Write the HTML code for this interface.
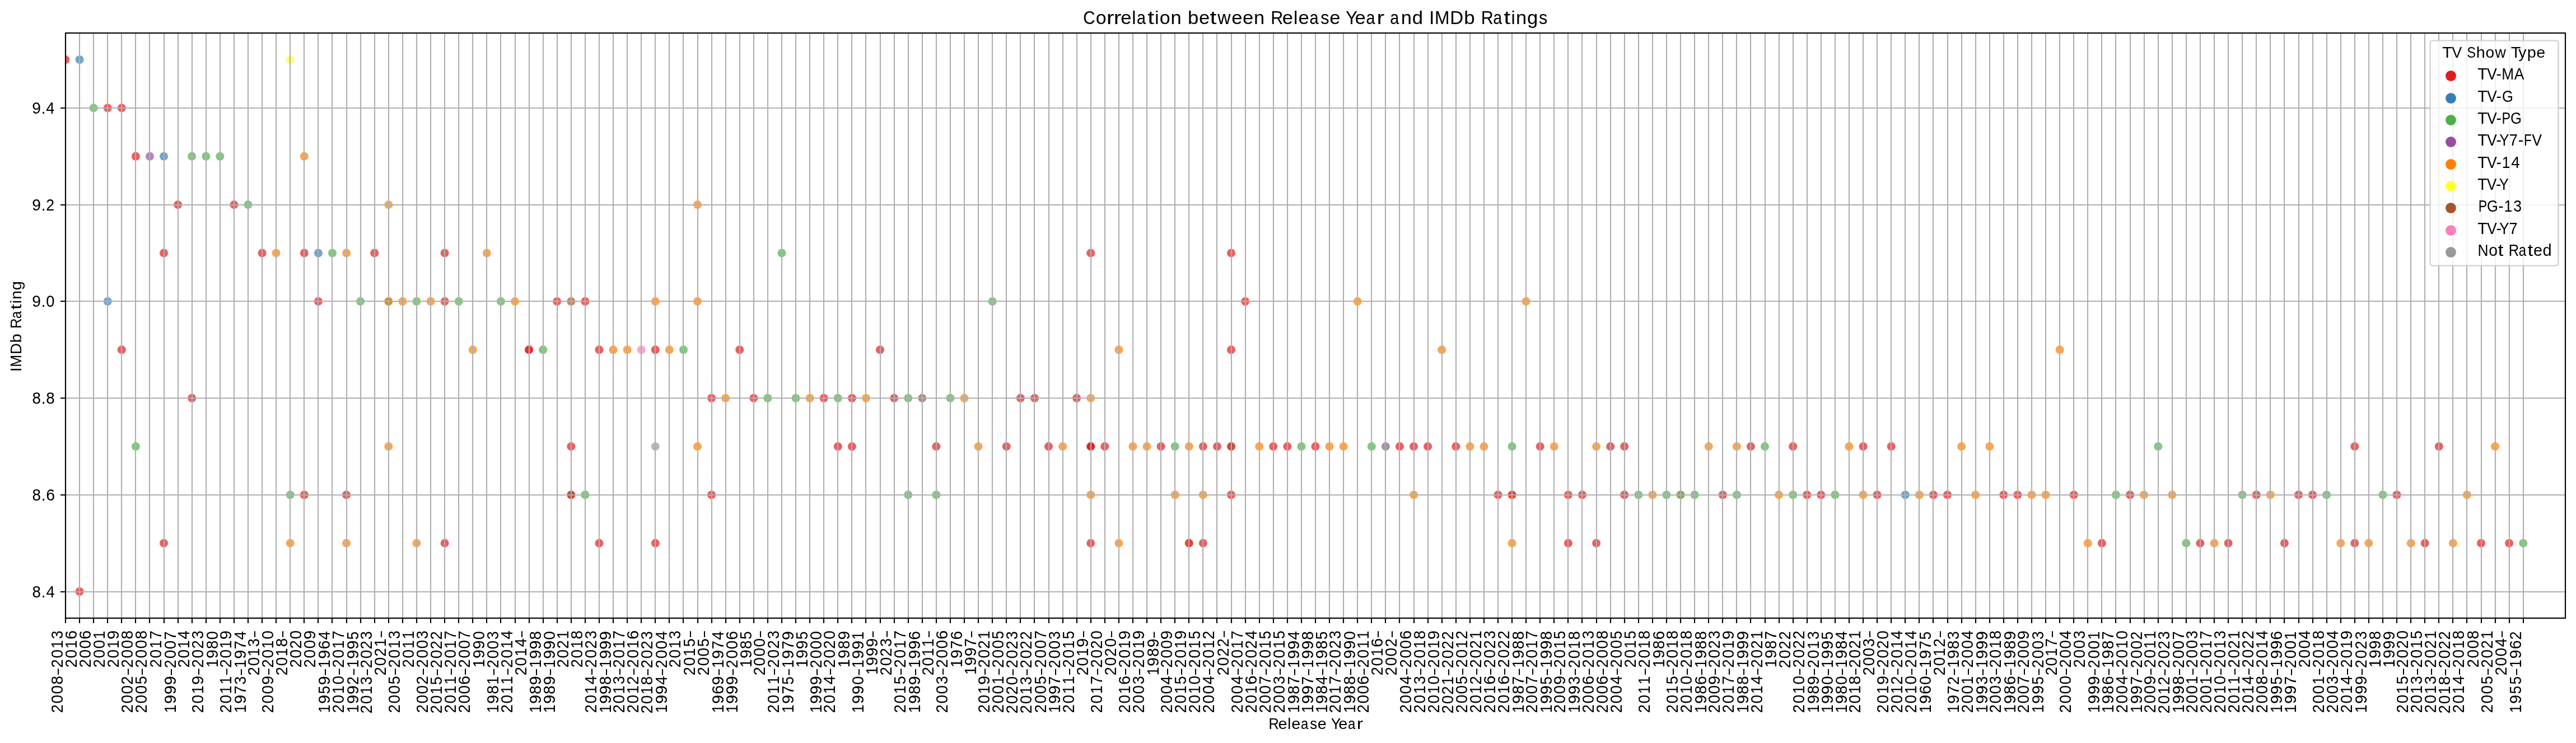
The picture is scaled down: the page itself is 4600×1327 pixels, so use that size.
<!DOCTYPE html>
<html><head><meta charset="utf-8"><title>Correlation between Release Year and IMDb Ratings</title>
<style>html,body{margin:0;padding:0;background:#fff;}body{width:4600px;height:1327px;overflow:hidden;}svg{display:block;will-change:transform;}text{font-family:"Liberation Sans", sans-serif;white-space:pre;font-kerning:none;}tspan{}</style>
</head><body>
<svg width="4600" height="1327" viewBox="0 0 4600 1327"><rect x="0" y="0" width="4600" height="1327" fill="#fff"/>
<defs><clipPath id="ac"><rect x="117" y="59" width="4464" height="1045"/></clipPath></defs>
<g clip-path="url(#ac)" fill-opacity="0.7" stroke="#fff" stroke-opacity="0.7" stroke-width="1.28"><circle cx="117" cy="106.5" r="8" fill="#e41a1c"/><circle cx="142.079" cy="106.5" r="8" fill="#377eb8"/><circle cx="518.258" cy="106.5" r="8" fill="#ffff33"/><circle cx="167.157" cy="192.864" r="8" fill="#4daf4a"/><circle cx="192.236" cy="192.864" r="8" fill="#e41a1c"/><circle cx="217.315" cy="192.864" r="8" fill="#e41a1c"/><circle cx="242.393" cy="279.227" r="8" fill="#e41a1c"/><circle cx="267.472" cy="279.227" r="8" fill="#984ea3"/><circle cx="292.551" cy="279.227" r="8" fill="#377eb8"/><circle cx="342.708" cy="279.227" r="8" fill="#4daf4a"/><circle cx="367.787" cy="279.227" r="8" fill="#4daf4a"/><circle cx="392.865" cy="279.227" r="8" fill="#4daf4a"/><circle cx="543.337" cy="279.227" r="8" fill="#ff7f00"/><circle cx="317.629" cy="365.591" r="8" fill="#e41a1c"/><circle cx="417.944" cy="365.591" r="8" fill="#e41a1c"/><circle cx="443.022" cy="365.591" r="8" fill="#4daf4a"/><circle cx="693.809" cy="365.591" r="8" fill="#ff7f00"/><circle cx="1245.539" cy="365.591" r="8" fill="#ff7f00"/><circle cx="292.551" cy="451.955" r="8" fill="#e41a1c"/><circle cx="468.101" cy="451.955" r="8" fill="#e41a1c"/><circle cx="493.18" cy="451.955" r="8" fill="#ff7f00"/><circle cx="543.337" cy="451.955" r="8" fill="#e41a1c"/><circle cx="568.416" cy="451.955" r="8" fill="#377eb8"/><circle cx="593.494" cy="451.955" r="8" fill="#4daf4a"/><circle cx="618.573" cy="451.955" r="8" fill="#ff7f00"/><circle cx="668.73" cy="451.955" r="8" fill="#e41a1c"/><circle cx="794.124" cy="451.955" r="8" fill="#e41a1c"/><circle cx="869.36" cy="451.955" r="8" fill="#ff7f00"/><circle cx="1396.011" cy="451.955" r="8" fill="#4daf4a"/><circle cx="1947.742" cy="451.955" r="8" fill="#e41a1c"/><circle cx="2198.528" cy="451.955" r="8" fill="#e41a1c"/><circle cx="192.236" cy="538.318" r="8" fill="#377eb8"/><circle cx="568.416" cy="538.318" r="8" fill="#e41a1c"/><circle cx="643.652" cy="538.318" r="8" fill="#4daf4a"/><circle cx="693.809" cy="538.318" r="8" fill="#ff7f00"/><circle cx="693.809" cy="538.318" r="8" fill="#4daf4a"/><circle cx="693.809" cy="538.318" r="8" fill="#ff7f00"/><circle cx="718.888" cy="538.318" r="8" fill="#ff7f00"/><circle cx="743.966" cy="538.318" r="8" fill="#4daf4a"/><circle cx="769.045" cy="538.318" r="8" fill="#ff7f00"/><circle cx="794.124" cy="538.318" r="8" fill="#e41a1c"/><circle cx="819.202" cy="538.318" r="8" fill="#4daf4a"/><circle cx="894.438" cy="538.318" r="8" fill="#4daf4a"/><circle cx="919.517" cy="538.318" r="8" fill="#ff7f00"/><circle cx="994.753" cy="538.318" r="8" fill="#e41a1c"/><circle cx="1019.831" cy="538.318" r="8" fill="#a65628"/><circle cx="1044.91" cy="538.318" r="8" fill="#e41a1c"/><circle cx="1170.303" cy="538.318" r="8" fill="#ff7f00"/><circle cx="1245.539" cy="538.318" r="8" fill="#ff7f00"/><circle cx="1772.191" cy="538.318" r="8" fill="#4daf4a"/><circle cx="2223.607" cy="538.318" r="8" fill="#e41a1c"/><circle cx="2424.236" cy="538.318" r="8" fill="#ff7f00"/><circle cx="2725.18" cy="538.318" r="8" fill="#ff7f00"/><circle cx="217.315" cy="624.682" r="8" fill="#e41a1c"/><circle cx="844.281" cy="624.682" r="8" fill="#ff7f00"/><circle cx="944.596" cy="624.682" r="8" fill="#e41a1c"/><circle cx="944.596" cy="624.682" r="8" fill="#e41a1c"/><circle cx="969.674" cy="624.682" r="8" fill="#4daf4a"/><circle cx="1069.989" cy="624.682" r="8" fill="#e41a1c"/><circle cx="1095.067" cy="624.682" r="8" fill="#ff7f00"/><circle cx="1120.146" cy="624.682" r="8" fill="#ff7f00"/><circle cx="1145.225" cy="624.682" r="8" fill="#f781bf"/><circle cx="1170.303" cy="624.682" r="8" fill="#e41a1c"/><circle cx="1195.382" cy="624.682" r="8" fill="#ff7f00"/><circle cx="1220.461" cy="624.682" r="8" fill="#4daf4a"/><circle cx="1320.775" cy="624.682" r="8" fill="#e41a1c"/><circle cx="1571.562" cy="624.682" r="8" fill="#e41a1c"/><circle cx="1997.899" cy="624.682" r="8" fill="#ff7f00"/><circle cx="2198.528" cy="624.682" r="8" fill="#e41a1c"/><circle cx="2574.708" cy="624.682" r="8" fill="#ff7f00"/><circle cx="3678.169" cy="624.682" r="8" fill="#ff7f00"/><circle cx="342.708" cy="711.045" r="8" fill="#e41a1c"/><circle cx="1270.618" cy="711.045" r="8" fill="#e41a1c"/><circle cx="1295.697" cy="711.045" r="8" fill="#ff7f00"/><circle cx="1345.854" cy="711.045" r="8" fill="#e41a1c"/><circle cx="1370.933" cy="711.045" r="8" fill="#4daf4a"/><circle cx="1421.09" cy="711.045" r="8" fill="#4daf4a"/><circle cx="1446.169" cy="711.045" r="8" fill="#ff7f00"/><circle cx="1471.247" cy="711.045" r="8" fill="#e41a1c"/><circle cx="1496.326" cy="711.045" r="8" fill="#4daf4a"/><circle cx="1521.404" cy="711.045" r="8" fill="#e41a1c"/><circle cx="1546.483" cy="711.045" r="8" fill="#ff7f00"/><circle cx="1596.64" cy="711.045" r="8" fill="#e41a1c"/><circle cx="1621.719" cy="711.045" r="8" fill="#4daf4a"/><circle cx="1646.798" cy="711.045" r="8" fill="#e41a1c"/><circle cx="1646.798" cy="711.045" r="8" fill="#999999"/><circle cx="1696.955" cy="711.045" r="8" fill="#4daf4a"/><circle cx="1722.034" cy="711.045" r="8" fill="#ff7f00"/><circle cx="1822.348" cy="711.045" r="8" fill="#e41a1c"/><circle cx="1847.427" cy="711.045" r="8" fill="#e41a1c"/><circle cx="1922.663" cy="711.045" r="8" fill="#e41a1c"/><circle cx="1947.742" cy="711.045" r="8" fill="#ff7f00"/><circle cx="242.393" cy="797.409" r="8" fill="#4daf4a"/><circle cx="693.809" cy="797.409" r="8" fill="#ff7f00"/><circle cx="1019.831" cy="797.409" r="8" fill="#e41a1c"/><circle cx="1170.303" cy="797.409" r="8" fill="#999999"/><circle cx="1245.539" cy="797.409" r="8" fill="#ff7f00"/><circle cx="1496.326" cy="797.409" r="8" fill="#e41a1c"/><circle cx="1521.404" cy="797.409" r="8" fill="#e41a1c"/><circle cx="1671.876" cy="797.409" r="8" fill="#e41a1c"/><circle cx="1747.112" cy="797.409" r="8" fill="#ff7f00"/><circle cx="1797.27" cy="797.409" r="8" fill="#e41a1c"/><circle cx="1872.506" cy="797.409" r="8" fill="#e41a1c"/><circle cx="1897.584" cy="797.409" r="8" fill="#ff7f00"/><circle cx="1947.742" cy="797.409" r="8" fill="#e41a1c"/><circle cx="1947.742" cy="797.409" r="8" fill="#e41a1c"/><circle cx="1947.742" cy="797.409" r="8" fill="#e41a1c"/><circle cx="1972.82" cy="797.409" r="8" fill="#e41a1c"/><circle cx="2022.978" cy="797.409" r="8" fill="#ff7f00"/><circle cx="2048.056" cy="797.409" r="8" fill="#ff7f00"/><circle cx="2073.135" cy="797.409" r="8" fill="#e41a1c"/><circle cx="2098.213" cy="797.409" r="8" fill="#4daf4a"/><circle cx="2123.292" cy="797.409" r="8" fill="#ff7f00"/><circle cx="2148.371" cy="797.409" r="8" fill="#e41a1c"/><circle cx="2173.449" cy="797.409" r="8" fill="#e41a1c"/><circle cx="2198.528" cy="797.409" r="8" fill="#4daf4a"/><circle cx="2198.528" cy="797.409" r="8" fill="#e41a1c"/><circle cx="2248.685" cy="797.409" r="8" fill="#ff7f00"/><circle cx="2273.764" cy="797.409" r="8" fill="#e41a1c"/><circle cx="2298.843" cy="797.409" r="8" fill="#e41a1c"/><circle cx="2323.921" cy="797.409" r="8" fill="#4daf4a"/><circle cx="2349" cy="797.409" r="8" fill="#e41a1c"/><circle cx="2374.079" cy="797.409" r="8" fill="#ff7f00"/><circle cx="2399.157" cy="797.409" r="8" fill="#ff7f00"/><circle cx="2449.315" cy="797.409" r="8" fill="#4daf4a"/><circle cx="2474.393" cy="797.409" r="8" fill="#984ea3"/><circle cx="2474.393" cy="797.409" r="8" fill="#999999"/><circle cx="2499.472" cy="797.409" r="8" fill="#e41a1c"/><circle cx="2524.551" cy="797.409" r="8" fill="#e41a1c"/><circle cx="2549.629" cy="797.409" r="8" fill="#e41a1c"/><circle cx="2599.787" cy="797.409" r="8" fill="#e41a1c"/><circle cx="2624.865" cy="797.409" r="8" fill="#ff7f00"/><circle cx="2649.944" cy="797.409" r="8" fill="#ff7f00"/><circle cx="2700.101" cy="797.409" r="8" fill="#4daf4a"/><circle cx="2750.258" cy="797.409" r="8" fill="#e41a1c"/><circle cx="2775.337" cy="797.409" r="8" fill="#ff7f00"/><circle cx="2850.573" cy="797.409" r="8" fill="#ff7f00"/><circle cx="2875.652" cy="797.409" r="8" fill="#e41a1c"/><circle cx="2900.73" cy="797.409" r="8" fill="#e41a1c"/><circle cx="3051.202" cy="797.409" r="8" fill="#ff7f00"/><circle cx="3101.36" cy="797.409" r="8" fill="#ff7f00"/><circle cx="3126.438" cy="797.409" r="8" fill="#e41a1c"/><circle cx="3151.517" cy="797.409" r="8" fill="#4daf4a"/><circle cx="3201.674" cy="797.409" r="8" fill="#e41a1c"/><circle cx="3301.989" cy="797.409" r="8" fill="#ff7f00"/><circle cx="3327.067" cy="797.409" r="8" fill="#e41a1c"/><circle cx="3377.225" cy="797.409" r="8" fill="#e41a1c"/><circle cx="3502.618" cy="797.409" r="8" fill="#ff7f00"/><circle cx="3552.775" cy="797.409" r="8" fill="#ff7f00"/><circle cx="3853.719" cy="797.409" r="8" fill="#4daf4a"/><circle cx="4204.82" cy="797.409" r="8" fill="#e41a1c"/><circle cx="4355.292" cy="797.409" r="8" fill="#e41a1c"/><circle cx="4455.607" cy="797.409" r="8" fill="#ff7f00"/><circle cx="518.258" cy="883.773" r="8" fill="#4daf4a"/><circle cx="543.337" cy="883.773" r="8" fill="#e41a1c"/><circle cx="618.573" cy="883.773" r="8" fill="#e41a1c"/><circle cx="1019.831" cy="883.773" r="8" fill="#4daf4a"/><circle cx="1019.831" cy="883.773" r="8" fill="#e41a1c"/><circle cx="1044.91" cy="883.773" r="8" fill="#4daf4a"/><circle cx="1270.618" cy="883.773" r="8" fill="#e41a1c"/><circle cx="1621.719" cy="883.773" r="8" fill="#4daf4a"/><circle cx="1671.876" cy="883.773" r="8" fill="#4daf4a"/><circle cx="1947.742" cy="883.773" r="8" fill="#ff7f00"/><circle cx="2098.213" cy="883.773" r="8" fill="#ff7f00"/><circle cx="2148.371" cy="883.773" r="8" fill="#ff7f00"/><circle cx="2198.528" cy="883.773" r="8" fill="#e41a1c"/><circle cx="2524.551" cy="883.773" r="8" fill="#ff7f00"/><circle cx="2675.022" cy="883.773" r="8" fill="#e41a1c"/><circle cx="2700.101" cy="883.773" r="8" fill="#ff7f00"/><circle cx="2700.101" cy="883.773" r="8" fill="#e41a1c"/><circle cx="2800.416" cy="883.773" r="8" fill="#e41a1c"/><circle cx="2825.494" cy="883.773" r="8" fill="#e41a1c"/><circle cx="2900.73" cy="883.773" r="8" fill="#e41a1c"/><circle cx="2925.809" cy="883.773" r="8" fill="#4daf4a"/><circle cx="2950.888" cy="883.773" r="8" fill="#ff7f00"/><circle cx="2975.966" cy="883.773" r="8" fill="#4daf4a"/><circle cx="3001.045" cy="883.773" r="8" fill="#ff7f00"/><circle cx="3001.045" cy="883.773" r="8" fill="#4daf4a"/><circle cx="3026.124" cy="883.773" r="8" fill="#4daf4a"/><circle cx="3076.281" cy="883.773" r="8" fill="#e41a1c"/><circle cx="3101.36" cy="883.773" r="8" fill="#4daf4a"/><circle cx="3176.596" cy="883.773" r="8" fill="#ff7f00"/><circle cx="3201.674" cy="883.773" r="8" fill="#4daf4a"/><circle cx="3226.753" cy="883.773" r="8" fill="#e41a1c"/><circle cx="3251.831" cy="883.773" r="8" fill="#e41a1c"/><circle cx="3276.91" cy="883.773" r="8" fill="#4daf4a"/><circle cx="3327.067" cy="883.773" r="8" fill="#ff7f00"/><circle cx="3352.146" cy="883.773" r="8" fill="#e41a1c"/><circle cx="3402.303" cy="883.773" r="8" fill="#377eb8"/><circle cx="3427.382" cy="883.773" r="8" fill="#ff7f00"/><circle cx="3452.461" cy="883.773" r="8" fill="#e41a1c"/><circle cx="3477.539" cy="883.773" r="8" fill="#e41a1c"/><circle cx="3527.697" cy="883.773" r="8" fill="#ff7f00"/><circle cx="3577.854" cy="883.773" r="8" fill="#e41a1c"/><circle cx="3602.933" cy="883.773" r="8" fill="#e41a1c"/><circle cx="3628.011" cy="883.773" r="8" fill="#ff7f00"/><circle cx="3653.09" cy="883.773" r="8" fill="#ff7f00"/><circle cx="3703.247" cy="883.773" r="8" fill="#e41a1c"/><circle cx="3778.483" cy="883.773" r="8" fill="#4daf4a"/><circle cx="3803.562" cy="883.773" r="8" fill="#e41a1c"/><circle cx="3828.64" cy="883.773" r="8" fill="#ff7f00"/><circle cx="3878.798" cy="883.773" r="8" fill="#ff7f00"/><circle cx="4004.191" cy="883.773" r="8" fill="#4daf4a"/><circle cx="4029.27" cy="883.773" r="8" fill="#e41a1c"/><circle cx="4054.348" cy="883.773" r="8" fill="#ff7f00"/><circle cx="4104.506" cy="883.773" r="8" fill="#e41a1c"/><circle cx="4129.584" cy="883.773" r="8" fill="#e41a1c"/><circle cx="4154.663" cy="883.773" r="8" fill="#4daf4a"/><circle cx="4254.978" cy="883.773" r="8" fill="#4daf4a"/><circle cx="4280.056" cy="883.773" r="8" fill="#e41a1c"/><circle cx="4405.449" cy="883.773" r="8" fill="#ff7f00"/><circle cx="292.551" cy="970.136" r="8" fill="#e41a1c"/><circle cx="518.258" cy="970.136" r="8" fill="#ff7f00"/><circle cx="618.573" cy="970.136" r="8" fill="#ff7f00"/><circle cx="743.966" cy="970.136" r="8" fill="#ff7f00"/><circle cx="794.124" cy="970.136" r="8" fill="#e41a1c"/><circle cx="1069.989" cy="970.136" r="8" fill="#e41a1c"/><circle cx="1170.303" cy="970.136" r="8" fill="#e41a1c"/><circle cx="1947.742" cy="970.136" r="8" fill="#e41a1c"/><circle cx="1997.899" cy="970.136" r="8" fill="#ff7f00"/><circle cx="2123.292" cy="970.136" r="8" fill="#ff7f00"/><circle cx="2123.292" cy="970.136" r="8" fill="#e41a1c"/><circle cx="2148.371" cy="970.136" r="8" fill="#e41a1c"/><circle cx="2700.101" cy="970.136" r="8" fill="#ff7f00"/><circle cx="2800.416" cy="970.136" r="8" fill="#e41a1c"/><circle cx="2850.573" cy="970.136" r="8" fill="#e41a1c"/><circle cx="3728.326" cy="970.136" r="8" fill="#ff7f00"/><circle cx="3753.404" cy="970.136" r="8" fill="#e41a1c"/><circle cx="3903.876" cy="970.136" r="8" fill="#4daf4a"/><circle cx="3928.955" cy="970.136" r="8" fill="#e41a1c"/><circle cx="3954.034" cy="970.136" r="8" fill="#ff7f00"/><circle cx="3979.112" cy="970.136" r="8" fill="#e41a1c"/><circle cx="4079.427" cy="970.136" r="8" fill="#e41a1c"/><circle cx="4179.742" cy="970.136" r="8" fill="#ff7f00"/><circle cx="4204.82" cy="970.136" r="8" fill="#e41a1c"/><circle cx="4229.899" cy="970.136" r="8" fill="#ff7f00"/><circle cx="4305.135" cy="970.136" r="8" fill="#ff7f00"/><circle cx="4330.213" cy="970.136" r="8" fill="#e41a1c"/><circle cx="4380.371" cy="970.136" r="8" fill="#ff7f00"/><circle cx="4430.528" cy="970.136" r="8" fill="#e41a1c"/><circle cx="4480.685" cy="970.136" r="8" fill="#e41a1c"/><circle cx="4505.764" cy="970.136" r="8" fill="#4daf4a"/><circle cx="142.079" cy="1056.5" r="8" fill="#e41a1c"/></g>
<path clip-path="url(#ac)" d="M117 59V1104M142 59V1104M167 59V1104M192 59V1104M217 59V1104M242 59V1104M267 59V1104M293 59V1104M318 59V1104M343 59V1104M368 59V1104M393 59V1104M418 59V1104M443 59V1104M468 59V1104M493 59V1104M518 59V1104M543 59V1104M568 59V1104M593 59V1104M619 59V1104M644 59V1104M669 59V1104M694 59V1104M719 59V1104M744 59V1104M769 59V1104M794 59V1104M819 59V1104M844 59V1104M869 59V1104M894 59V1104M920 59V1104M945 59V1104M970 59V1104M995 59V1104M1020 59V1104M1045 59V1104M1070 59V1104M1095 59V1104M1120 59V1104M1145 59V1104M1170 59V1104M1195 59V1104M1220 59V1104M1246 59V1104M1271 59V1104M1296 59V1104M1321 59V1104M1346 59V1104M1371 59V1104M1396 59V1104M1421 59V1104M1446 59V1104M1471 59V1104M1496 59V1104M1521 59V1104M1546 59V1104M1572 59V1104M1597 59V1104M1622 59V1104M1647 59V1104M1672 59V1104M1697 59V1104M1722 59V1104M1747 59V1104M1772 59V1104M1797 59V1104M1822 59V1104M1847 59V1104M1873 59V1104M1898 59V1104M1923 59V1104M1948 59V1104M1973 59V1104M1998 59V1104M2023 59V1104M2048 59V1104M2073 59V1104M2098 59V1104M2123 59V1104M2148 59V1104M2173 59V1104M2199 59V1104M2224 59V1104M2249 59V1104M2274 59V1104M2299 59V1104M2324 59V1104M2349 59V1104M2374 59V1104M2399 59V1104M2424 59V1104M2449 59V1104M2474 59V1104M2499 59V1104M2525 59V1104M2550 59V1104M2575 59V1104M2600 59V1104M2625 59V1104M2650 59V1104M2675 59V1104M2700 59V1104M2725 59V1104M2750 59V1104M2775 59V1104M2800 59V1104M2825 59V1104M2851 59V1104M2876 59V1104M2901 59V1104M2926 59V1104M2951 59V1104M2976 59V1104M3001 59V1104M3026 59V1104M3051 59V1104M3076 59V1104M3101 59V1104M3126 59V1104M3152 59V1104M3177 59V1104M3202 59V1104M3227 59V1104M3252 59V1104M3277 59V1104M3302 59V1104M3327 59V1104M3352 59V1104M3377 59V1104M3402 59V1104M3427 59V1104M3452 59V1104M3478 59V1104M3503 59V1104M3528 59V1104M3553 59V1104M3578 59V1104M3603 59V1104M3628 59V1104M3653 59V1104M3678 59V1104M3703 59V1104M3728 59V1104M3753 59V1104M3778 59V1104M3804 59V1104M3829 59V1104M3854 59V1104M3879 59V1104M3904 59V1104M3929 59V1104M3954 59V1104M3979 59V1104M4004 59V1104M4029 59V1104M4054 59V1104M4079 59V1104M4105 59V1104M4130 59V1104M4155 59V1104M4180 59V1104M4205 59V1104M4230 59V1104M4255 59V1104M4280 59V1104M4305 59V1104M4330 59V1104M4355 59V1104M4380 59V1104M4405 59V1104M4431 59V1104M4456 59V1104M4481 59V1104M4506 59V1104M117 1057H4581M117 884H4581M117 711H4581M117 538H4581M117 366H4581M117 193H4581" stroke="#b0b0b0" stroke-width="2.133" fill="none"/>
<path d="M117 1104v9M142 1104v9M167 1104v9M192 1104v9M217 1104v9M242 1104v9M267 1104v9M293 1104v9M318 1104v9M343 1104v9M368 1104v9M393 1104v9M418 1104v9M443 1104v9M468 1104v9M493 1104v9M518 1104v9M543 1104v9M568 1104v9M593 1104v9M619 1104v9M644 1104v9M669 1104v9M694 1104v9M719 1104v9M744 1104v9M769 1104v9M794 1104v9M819 1104v9M844 1104v9M869 1104v9M894 1104v9M920 1104v9M945 1104v9M970 1104v9M995 1104v9M1020 1104v9M1045 1104v9M1070 1104v9M1095 1104v9M1120 1104v9M1145 1104v9M1170 1104v9M1195 1104v9M1220 1104v9M1246 1104v9M1271 1104v9M1296 1104v9M1321 1104v9M1346 1104v9M1371 1104v9M1396 1104v9M1421 1104v9M1446 1104v9M1471 1104v9M1496 1104v9M1521 1104v9M1546 1104v9M1572 1104v9M1597 1104v9M1622 1104v9M1647 1104v9M1672 1104v9M1697 1104v9M1722 1104v9M1747 1104v9M1772 1104v9M1797 1104v9M1822 1104v9M1847 1104v9M1873 1104v9M1898 1104v9M1923 1104v9M1948 1104v9M1973 1104v9M1998 1104v9M2023 1104v9M2048 1104v9M2073 1104v9M2098 1104v9M2123 1104v9M2148 1104v9M2173 1104v9M2199 1104v9M2224 1104v9M2249 1104v9M2274 1104v9M2299 1104v9M2324 1104v9M2349 1104v9M2374 1104v9M2399 1104v9M2424 1104v9M2449 1104v9M2474 1104v9M2499 1104v9M2525 1104v9M2550 1104v9M2575 1104v9M2600 1104v9M2625 1104v9M2650 1104v9M2675 1104v9M2700 1104v9M2725 1104v9M2750 1104v9M2775 1104v9M2800 1104v9M2825 1104v9M2851 1104v9M2876 1104v9M2901 1104v9M2926 1104v9M2951 1104v9M2976 1104v9M3001 1104v9M3026 1104v9M3051 1104v9M3076 1104v9M3101 1104v9M3126 1104v9M3152 1104v9M3177 1104v9M3202 1104v9M3227 1104v9M3252 1104v9M3277 1104v9M3302 1104v9M3327 1104v9M3352 1104v9M3377 1104v9M3402 1104v9M3427 1104v9M3452 1104v9M3478 1104v9M3503 1104v9M3528 1104v9M3553 1104v9M3578 1104v9M3603 1104v9M3628 1104v9M3653 1104v9M3678 1104v9M3703 1104v9M3728 1104v9M3753 1104v9M3778 1104v9M3804 1104v9M3829 1104v9M3854 1104v9M3879 1104v9M3904 1104v9M3929 1104v9M3954 1104v9M3979 1104v9M4004 1104v9M4029 1104v9M4054 1104v9M4079 1104v9M4105 1104v9M4130 1104v9M4155 1104v9M4180 1104v9M4205 1104v9M4230 1104v9M4255 1104v9M4280 1104v9M4305 1104v9M4330 1104v9M4355 1104v9M4380 1104v9M4405 1104v9M4431 1104v9M4456 1104v9M4481 1104v9M4506 1104v9M117 1057h-9M117 884h-9M117 711h-9M117 538h-9M117 366h-9M117 193h-9" stroke="#000" stroke-width="2.133" fill="none"/>
<g font-family='"Liberation Sans", sans-serif' fill="#000" stroke="#000" stroke-width="0.05"><text transform="translate(58.78 1066.71)" font-size="28.8"><tspan x="-1.2" textLength="15.41" lengthAdjust="spacingAndGlyphs">8</tspan><tspan x="14.97" textLength="7.82" lengthAdjust="spacingAndGlyphs">.</tspan><tspan x="23.65" textLength="15.25" lengthAdjust="spacingAndGlyphs">4</tspan></text><text transform="translate(58.78 893.71)" font-size="28.8"><tspan x="-1.21" textLength="15.43" lengthAdjust="spacingAndGlyphs">8</tspan><tspan x="14.98" textLength="7.83" lengthAdjust="spacingAndGlyphs">.</tspan><tspan x="23.41" textLength="15.79" lengthAdjust="spacingAndGlyphs">6</tspan></text><text transform="translate(58.78 720.71)" font-size="28.8"><tspan x="-1.21" textLength="15.43" lengthAdjust="spacingAndGlyphs">8</tspan><tspan x="14.98" textLength="7.83" lengthAdjust="spacingAndGlyphs">.</tspan><tspan x="23.59" textLength="15.43" lengthAdjust="spacingAndGlyphs">8</tspan></text><text transform="translate(58.64 547.72)" font-size="28.8"><tspan x="-1.32" textLength="15.7" lengthAdjust="spacingAndGlyphs">9</tspan><tspan x="15.04" textLength="7.79" lengthAdjust="spacingAndGlyphs">.</tspan><tspan x="23.7" textLength="15.2" lengthAdjust="spacingAndGlyphs">0</tspan></text><text transform="translate(58.64 375.72)" font-size="28.8"><tspan x="-1.33" textLength="15.76" lengthAdjust="spacingAndGlyphs">9</tspan><tspan x="15.11" textLength="7.82" lengthAdjust="spacingAndGlyphs">.</tspan><tspan x="23.73" textLength="14.71" lengthAdjust="spacingAndGlyphs">2</tspan></text><text transform="translate(58.64 202.71)" font-size="28.8"><tspan x="-1.32" textLength="15.7" lengthAdjust="spacingAndGlyphs">9</tspan><tspan x="15.05" textLength="7.8" lengthAdjust="spacingAndGlyphs">.</tspan><tspan x="23.71" textLength="15.2" lengthAdjust="spacingAndGlyphs">4</tspan></text><text transform="translate(111.71 1272) rotate(-90)" font-size="28.8"><tspan x="-1.36" textLength="15.05" lengthAdjust="spacingAndGlyphs">2</tspan><tspan x="15.62" textLength="15.61" lengthAdjust="spacingAndGlyphs">0</tspan><tspan x="32.54" textLength="15.61" lengthAdjust="spacingAndGlyphs">0</tspan><tspan x="49.37" textLength="15.78" lengthAdjust="spacingAndGlyphs">8</tspan><tspan x="67.02" textLength="10.72" lengthAdjust="spacingAndGlyphs">–</tspan><tspan x="79.6" textLength="15.05" lengthAdjust="spacingAndGlyphs">2</tspan><tspan x="96.58" textLength="15.61" lengthAdjust="spacingAndGlyphs">0</tspan><tspan x="113.73" textLength="14.91" lengthAdjust="spacingAndGlyphs">1</tspan><tspan x="130.76" textLength="14.99" lengthAdjust="spacingAndGlyphs">3</tspan></text><text transform="translate(136.71 1191) rotate(-90)" font-size="28.8"><tspan x="-1.36" textLength="15.03" lengthAdjust="spacingAndGlyphs">2</tspan><tspan x="15.6" textLength="15.59" lengthAdjust="spacingAndGlyphs">0</tspan><tspan x="32.72" textLength="14.89" lengthAdjust="spacingAndGlyphs">1</tspan><tspan x="49.11" textLength="16.13" lengthAdjust="spacingAndGlyphs">6</tspan></text><text transform="translate(161.71 1191) rotate(-90)" font-size="28.8"><tspan x="-1.36" textLength="15.03" lengthAdjust="spacingAndGlyphs">2</tspan><tspan x="15.6" textLength="15.59" lengthAdjust="spacingAndGlyphs">0</tspan><tspan x="32.49" textLength="15.59" lengthAdjust="spacingAndGlyphs">0</tspan><tspan x="49.11" textLength="16.13" lengthAdjust="spacingAndGlyphs">6</tspan></text><text transform="translate(186.71 1191) rotate(-90)" font-size="28.8"><tspan x="-1.36" textLength="15.01" lengthAdjust="spacingAndGlyphs">2</tspan><tspan x="15.58" textLength="15.57" lengthAdjust="spacingAndGlyphs">0</tspan><tspan x="32.45" textLength="15.57" lengthAdjust="spacingAndGlyphs">0</tspan><tspan x="49.55" textLength="14.87" lengthAdjust="spacingAndGlyphs">1</tspan></text><text transform="translate(211.71 1191) rotate(-90)" font-size="28.8"><tspan x="-1.36" textLength="15.01" lengthAdjust="spacingAndGlyphs">2</tspan><tspan x="15.59" textLength="15.57" lengthAdjust="spacingAndGlyphs">0</tspan><tspan x="32.69" textLength="14.87" lengthAdjust="spacingAndGlyphs">1</tspan><tspan x="49" textLength="16.09" lengthAdjust="spacingAndGlyphs">9</tspan></text><text transform="translate(236.71 1272) rotate(-90)" font-size="28.8"><tspan x="-1.36" textLength="15.04" lengthAdjust="spacingAndGlyphs">2</tspan><tspan x="15.62" textLength="15.61" lengthAdjust="spacingAndGlyphs">0</tspan><tspan x="32.53" textLength="15.61" lengthAdjust="spacingAndGlyphs">0</tspan><tspan x="49.37" textLength="15.04" lengthAdjust="spacingAndGlyphs">2</tspan><tspan x="66.99" textLength="10.72" lengthAdjust="spacingAndGlyphs">–</tspan><tspan x="79.57" textLength="15.04" lengthAdjust="spacingAndGlyphs">2</tspan><tspan x="96.55" textLength="15.61" lengthAdjust="spacingAndGlyphs">0</tspan><tspan x="113.46" textLength="15.61" lengthAdjust="spacingAndGlyphs">0</tspan><tspan x="130.28" textLength="15.78" lengthAdjust="spacingAndGlyphs">8</tspan></text><text transform="translate(261.71 1272) rotate(-90)" font-size="28.8"><tspan x="-1.36" textLength="15.04" lengthAdjust="spacingAndGlyphs">2</tspan><tspan x="15.62" textLength="15.61" lengthAdjust="spacingAndGlyphs">0</tspan><tspan x="32.53" textLength="15.61" lengthAdjust="spacingAndGlyphs">0</tspan><tspan x="49.77" textLength="14.73" lengthAdjust="spacingAndGlyphs">5</tspan><tspan x="66.99" textLength="10.72" lengthAdjust="spacingAndGlyphs">–</tspan><tspan x="79.57" textLength="15.04" lengthAdjust="spacingAndGlyphs">2</tspan><tspan x="96.55" textLength="15.61" lengthAdjust="spacingAndGlyphs">0</tspan><tspan x="113.46" textLength="15.61" lengthAdjust="spacingAndGlyphs">0</tspan><tspan x="130.28" textLength="15.78" lengthAdjust="spacingAndGlyphs">8</tspan></text><text transform="translate(287.71 1191) rotate(-90)" font-size="28.8"><tspan x="-1.36" textLength="15.02" lengthAdjust="spacingAndGlyphs">2</tspan><tspan x="15.6" textLength="15.59" lengthAdjust="spacingAndGlyphs">0</tspan><tspan x="32.71" textLength="14.89" lengthAdjust="spacingAndGlyphs">1</tspan><tspan x="49.5" textLength="15.25" lengthAdjust="spacingAndGlyphs">7</tspan></text><text transform="translate(313.71 1271.12) rotate(-90)" font-size="28.8"><tspan x="-2.02" textLength="14.79" lengthAdjust="spacingAndGlyphs">1</tspan><tspan x="14.19" textLength="15.99" lengthAdjust="spacingAndGlyphs">9</tspan><tspan x="30.96" textLength="15.99" lengthAdjust="spacingAndGlyphs">9</tspan><tspan x="47.74" textLength="15.99" lengthAdjust="spacingAndGlyphs">9</tspan><tspan x="65.48" textLength="10.63" lengthAdjust="spacingAndGlyphs">–</tspan><tspan x="77.96" textLength="14.92" lengthAdjust="spacingAndGlyphs">2</tspan><tspan x="94.8" textLength="15.48" lengthAdjust="spacingAndGlyphs">0</tspan><tspan x="111.58" textLength="15.48" lengthAdjust="spacingAndGlyphs">0</tspan><tspan x="128.47" textLength="15.14" lengthAdjust="spacingAndGlyphs">7</tspan></text><text transform="translate(337.71 1191) rotate(-90)" font-size="28.8"><tspan x="-1.36" textLength="15.02" lengthAdjust="spacingAndGlyphs">2</tspan><tspan x="15.59" textLength="15.58" lengthAdjust="spacingAndGlyphs">0</tspan><tspan x="32.7" textLength="14.88" lengthAdjust="spacingAndGlyphs">1</tspan><tspan x="49.35" textLength="15.58" lengthAdjust="spacingAndGlyphs">4</tspan></text><text transform="translate(362.71 1272) rotate(-90)" font-size="28.8"><tspan x="-1.36" textLength="15.05" lengthAdjust="spacingAndGlyphs">2</tspan><tspan x="15.62" textLength="15.61" lengthAdjust="spacingAndGlyphs">0</tspan><tspan x="32.77" textLength="14.91" lengthAdjust="spacingAndGlyphs">1</tspan><tspan x="49.12" textLength="16.13" lengthAdjust="spacingAndGlyphs">9</tspan><tspan x="67.02" textLength="10.72" lengthAdjust="spacingAndGlyphs">–</tspan><tspan x="79.6" textLength="15.05" lengthAdjust="spacingAndGlyphs">2</tspan><tspan x="96.58" textLength="15.61" lengthAdjust="spacingAndGlyphs">0</tspan><tspan x="113.43" textLength="15.05" lengthAdjust="spacingAndGlyphs">2</tspan><tspan x="130.76" textLength="14.99" lengthAdjust="spacingAndGlyphs">3</tspan></text><text transform="translate(388.71 1190.12) rotate(-90)" font-size="28.8"><tspan x="-2.01" textLength="14.67" lengthAdjust="spacingAndGlyphs">1</tspan><tspan x="14.07" textLength="15.86" lengthAdjust="spacingAndGlyphs">9</tspan><tspan x="30.97" textLength="15.52" lengthAdjust="spacingAndGlyphs">8</tspan><tspan x="47.69" textLength="15.36" lengthAdjust="spacingAndGlyphs">0</tspan></text><text transform="translate(412.71 1272) rotate(-90)" font-size="28.8"><tspan x="-1.36" textLength="15.02" lengthAdjust="spacingAndGlyphs">2</tspan><tspan x="15.6" textLength="15.59" lengthAdjust="spacingAndGlyphs">0</tspan><tspan x="32.71" textLength="14.89" lengthAdjust="spacingAndGlyphs">1</tspan><tspan x="49.6" textLength="14.89" lengthAdjust="spacingAndGlyphs">1</tspan><tspan x="66.9" textLength="10.71" lengthAdjust="spacingAndGlyphs">–</tspan><tspan x="79.47" textLength="15.02" lengthAdjust="spacingAndGlyphs">2</tspan><tspan x="96.42" textLength="15.59" lengthAdjust="spacingAndGlyphs">0</tspan><tspan x="113.54" textLength="14.89" lengthAdjust="spacingAndGlyphs">1</tspan><tspan x="129.86" textLength="16.1" lengthAdjust="spacingAndGlyphs">9</tspan></text><text transform="translate(438.71 1271.12) rotate(-90)" font-size="28.8"><tspan x="-2.02" textLength="14.78" lengthAdjust="spacingAndGlyphs">1</tspan><tspan x="14.19" textLength="15.99" lengthAdjust="spacingAndGlyphs">9</tspan><tspan x="31.41" textLength="15.14" lengthAdjust="spacingAndGlyphs">7</tspan><tspan x="48.41" textLength="14.87" lengthAdjust="spacingAndGlyphs">3</tspan><tspan x="65.47" textLength="10.63" lengthAdjust="spacingAndGlyphs">–</tspan><tspan x="78.24" textLength="14.78" lengthAdjust="spacingAndGlyphs">1</tspan><tspan x="94.45" textLength="15.99" lengthAdjust="spacingAndGlyphs">9</tspan><tspan x="111.68" textLength="15.14" lengthAdjust="spacingAndGlyphs">7</tspan><tspan x="128.33" textLength="15.48" lengthAdjust="spacingAndGlyphs">4</tspan></text><text transform="translate(462.71 1205) rotate(-90)" font-size="28.8"><tspan x="-1.36" textLength="15.05" lengthAdjust="spacingAndGlyphs">2</tspan><tspan x="15.63" textLength="15.61" lengthAdjust="spacingAndGlyphs">0</tspan><tspan x="32.77" textLength="14.91" lengthAdjust="spacingAndGlyphs">1</tspan><tspan x="49.81" textLength="15" lengthAdjust="spacingAndGlyphs">3</tspan><tspan x="67.03" textLength="10.73" lengthAdjust="spacingAndGlyphs">–</tspan></text><text transform="translate(487.71 1272) rotate(-90)" font-size="28.8"><tspan x="-1.36" textLength="15.03" lengthAdjust="spacingAndGlyphs">2</tspan><tspan x="15.6" textLength="15.59" lengthAdjust="spacingAndGlyphs">0</tspan><tspan x="32.49" textLength="15.59" lengthAdjust="spacingAndGlyphs">0</tspan><tspan x="49.04" textLength="16.1" lengthAdjust="spacingAndGlyphs">9</tspan><tspan x="66.91" textLength="10.71" lengthAdjust="spacingAndGlyphs">–</tspan><tspan x="79.48" textLength="15.03" lengthAdjust="spacingAndGlyphs">2</tspan><tspan x="96.44" textLength="15.59" lengthAdjust="spacingAndGlyphs">0</tspan><tspan x="113.55" textLength="14.89" lengthAdjust="spacingAndGlyphs">1</tspan><tspan x="130.22" textLength="15.59" lengthAdjust="spacingAndGlyphs">0</tspan></text><text transform="translate(512.71 1205) rotate(-90)" font-size="28.8"><tspan x="-1.36" textLength="15.05" lengthAdjust="spacingAndGlyphs">2</tspan><tspan x="15.63" textLength="15.61" lengthAdjust="spacingAndGlyphs">0</tspan><tspan x="32.77" textLength="14.91" lengthAdjust="spacingAndGlyphs">1</tspan><tspan x="49.38" textLength="15.78" lengthAdjust="spacingAndGlyphs">8</tspan><tspan x="67.03" textLength="10.73" lengthAdjust="spacingAndGlyphs">–</tspan></text><text transform="translate(537.71 1191) rotate(-90)" font-size="28.8"><tspan x="-1.36" textLength="15.05" lengthAdjust="spacingAndGlyphs">2</tspan><tspan x="15.62" textLength="15.61" lengthAdjust="spacingAndGlyphs">0</tspan><tspan x="32.47" textLength="15.05" lengthAdjust="spacingAndGlyphs">2</tspan><tspan x="49.45" textLength="15.61" lengthAdjust="spacingAndGlyphs">0</tspan></text><text transform="translate(562.71 1191) rotate(-90)" font-size="28.8"><tspan x="-1.36" textLength="15.01" lengthAdjust="spacingAndGlyphs">2</tspan><tspan x="15.59" textLength="15.57" lengthAdjust="spacingAndGlyphs">0</tspan><tspan x="32.46" textLength="15.57" lengthAdjust="spacingAndGlyphs">0</tspan><tspan x="49" textLength="16.09" lengthAdjust="spacingAndGlyphs">9</tspan></text><text transform="translate(588.71 1271.12) rotate(-90)" font-size="28.8"><tspan x="-2.02" textLength="14.78" lengthAdjust="spacingAndGlyphs">1</tspan><tspan x="14.19" textLength="15.99" lengthAdjust="spacingAndGlyphs">9</tspan><tspan x="31.63" textLength="14.61" lengthAdjust="spacingAndGlyphs">5</tspan><tspan x="47.73" textLength="15.99" lengthAdjust="spacingAndGlyphs">9</tspan><tspan x="65.47" textLength="10.63" lengthAdjust="spacingAndGlyphs">–</tspan><tspan x="78.24" textLength="14.78" lengthAdjust="spacingAndGlyphs">1</tspan><tspan x="94.45" textLength="15.99" lengthAdjust="spacingAndGlyphs">9</tspan><tspan x="111.29" textLength="16.02" lengthAdjust="spacingAndGlyphs">6</tspan><tspan x="128.33" textLength="15.48" lengthAdjust="spacingAndGlyphs">4</tspan></text><text transform="translate(613.71 1272) rotate(-90)" font-size="28.8"><tspan x="-1.36" textLength="15.03" lengthAdjust="spacingAndGlyphs">2</tspan><tspan x="15.6" textLength="15.59" lengthAdjust="spacingAndGlyphs">0</tspan><tspan x="32.72" textLength="14.89" lengthAdjust="spacingAndGlyphs">1</tspan><tspan x="49.39" textLength="15.59" lengthAdjust="spacingAndGlyphs">0</tspan><tspan x="66.93" textLength="10.71" lengthAdjust="spacingAndGlyphs">–</tspan><tspan x="79.5" textLength="15.03" lengthAdjust="spacingAndGlyphs">2</tspan><tspan x="96.46" textLength="15.59" lengthAdjust="spacingAndGlyphs">0</tspan><tspan x="113.58" textLength="14.89" lengthAdjust="spacingAndGlyphs">1</tspan><tspan x="130.37" textLength="15.25" lengthAdjust="spacingAndGlyphs">7</tspan></text><text transform="translate(639.71 1271.12) rotate(-90)" font-size="28.8"><tspan x="-2.03" textLength="14.79" lengthAdjust="spacingAndGlyphs">1</tspan><tspan x="14.19" textLength="15.99" lengthAdjust="spacingAndGlyphs">9</tspan><tspan x="30.97" textLength="15.99" lengthAdjust="spacingAndGlyphs">9</tspan><tspan x="48.01" textLength="14.92" lengthAdjust="spacingAndGlyphs">2</tspan><tspan x="65.5" textLength="10.64" lengthAdjust="spacingAndGlyphs">–</tspan><tspan x="78.27" textLength="14.79" lengthAdjust="spacingAndGlyphs">1</tspan><tspan x="94.48" textLength="15.99" lengthAdjust="spacingAndGlyphs">9</tspan><tspan x="111.26" textLength="15.99" lengthAdjust="spacingAndGlyphs">9</tspan><tspan x="128.71" textLength="14.61" lengthAdjust="spacingAndGlyphs">5</tspan></text><text transform="translate(663.71 1273) rotate(-90)" font-size="28.8"><tspan x="-1.36" textLength="15.06" lengthAdjust="spacingAndGlyphs">2</tspan><tspan x="15.64" textLength="15.63" lengthAdjust="spacingAndGlyphs">0</tspan><tspan x="32.79" textLength="14.92" lengthAdjust="spacingAndGlyphs">1</tspan><tspan x="49.84" textLength="15.01" lengthAdjust="spacingAndGlyphs">3</tspan><tspan x="67.07" textLength="10.73" lengthAdjust="spacingAndGlyphs">–</tspan><tspan x="79.67" textLength="15.06" lengthAdjust="spacingAndGlyphs">2</tspan><tspan x="96.67" textLength="15.63" lengthAdjust="spacingAndGlyphs">0</tspan><tspan x="113.53" textLength="15.06" lengthAdjust="spacingAndGlyphs">2</tspan><tspan x="130.87" textLength="15.01" lengthAdjust="spacingAndGlyphs">3</tspan></text><text transform="translate(688.71 1205) rotate(-90)" font-size="28.8"><tspan x="-1.36" textLength="15.05" lengthAdjust="spacingAndGlyphs">2</tspan><tspan x="15.63" textLength="15.61" lengthAdjust="spacingAndGlyphs">0</tspan><tspan x="32.48" textLength="15.05" lengthAdjust="spacingAndGlyphs">2</tspan><tspan x="49.69" textLength="14.91" lengthAdjust="spacingAndGlyphs">1</tspan><tspan x="67.03" textLength="10.73" lengthAdjust="spacingAndGlyphs">–</tspan></text><text transform="translate(713.71 1272) rotate(-90)" font-size="28.8"><tspan x="-1.36" textLength="15.05" lengthAdjust="spacingAndGlyphs">2</tspan><tspan x="15.62" textLength="15.61" lengthAdjust="spacingAndGlyphs">0</tspan><tspan x="32.54" textLength="15.61" lengthAdjust="spacingAndGlyphs">0</tspan><tspan x="49.79" textLength="14.73" lengthAdjust="spacingAndGlyphs">5</tspan><tspan x="67.02" textLength="10.72" lengthAdjust="spacingAndGlyphs">–</tspan><tspan x="79.6" textLength="15.05" lengthAdjust="spacingAndGlyphs">2</tspan><tspan x="96.58" textLength="15.61" lengthAdjust="spacingAndGlyphs">0</tspan><tspan x="113.73" textLength="14.91" lengthAdjust="spacingAndGlyphs">1</tspan><tspan x="130.76" textLength="14.99" lengthAdjust="spacingAndGlyphs">3</tspan></text><text transform="translate(738.71 1191) rotate(-90)" font-size="28.8"><tspan x="-1.36" textLength="15.01" lengthAdjust="spacingAndGlyphs">2</tspan><tspan x="15.58" textLength="15.57" lengthAdjust="spacingAndGlyphs">0</tspan><tspan x="32.68" textLength="14.87" lengthAdjust="spacingAndGlyphs">1</tspan><tspan x="49.55" textLength="14.87" lengthAdjust="spacingAndGlyphs">1</tspan></text><text transform="translate(763.71 1272) rotate(-90)" font-size="28.8"><tspan x="-1.36" textLength="15.05" lengthAdjust="spacingAndGlyphs">2</tspan><tspan x="15.62" textLength="15.61" lengthAdjust="spacingAndGlyphs">0</tspan><tspan x="32.54" textLength="15.61" lengthAdjust="spacingAndGlyphs">0</tspan><tspan x="49.39" textLength="15.05" lengthAdjust="spacingAndGlyphs">2</tspan><tspan x="67.02" textLength="10.72" lengthAdjust="spacingAndGlyphs">–</tspan><tspan x="79.6" textLength="15.05" lengthAdjust="spacingAndGlyphs">2</tspan><tspan x="96.58" textLength="15.61" lengthAdjust="spacingAndGlyphs">0</tspan><tspan x="113.5" textLength="15.61" lengthAdjust="spacingAndGlyphs">0</tspan><tspan x="130.76" textLength="14.99" lengthAdjust="spacingAndGlyphs">3</tspan></text><text transform="translate(788.71 1273) rotate(-90)" font-size="28.8"><tspan x="-1.36" textLength="15.07" lengthAdjust="spacingAndGlyphs">2</tspan><tspan x="15.65" textLength="15.63" lengthAdjust="spacingAndGlyphs">0</tspan><tspan x="32.81" textLength="14.93" lengthAdjust="spacingAndGlyphs">1</tspan><tspan x="49.86" textLength="14.75" lengthAdjust="spacingAndGlyphs">5</tspan><tspan x="67.11" textLength="10.74" lengthAdjust="spacingAndGlyphs">–</tspan><tspan x="79.71" textLength="15.07" lengthAdjust="spacingAndGlyphs">2</tspan><tspan x="96.72" textLength="15.63" lengthAdjust="spacingAndGlyphs">0</tspan><tspan x="113.59" textLength="15.07" lengthAdjust="spacingAndGlyphs">2</tspan><tspan x="130.53" textLength="15.07" lengthAdjust="spacingAndGlyphs">2</tspan></text><text transform="translate(813.71 1272) rotate(-90)" font-size="28.8"><tspan x="-1.36" textLength="15.03" lengthAdjust="spacingAndGlyphs">2</tspan><tspan x="15.6" textLength="15.59" lengthAdjust="spacingAndGlyphs">0</tspan><tspan x="32.72" textLength="14.89" lengthAdjust="spacingAndGlyphs">1</tspan><tspan x="49.62" textLength="14.89" lengthAdjust="spacingAndGlyphs">1</tspan><tspan x="66.93" textLength="10.71" lengthAdjust="spacingAndGlyphs">–</tspan><tspan x="79.5" textLength="15.03" lengthAdjust="spacingAndGlyphs">2</tspan><tspan x="96.46" textLength="15.59" lengthAdjust="spacingAndGlyphs">0</tspan><tspan x="113.58" textLength="14.89" lengthAdjust="spacingAndGlyphs">1</tspan><tspan x="130.37" textLength="15.25" lengthAdjust="spacingAndGlyphs">7</tspan></text><text transform="translate(838.71 1272) rotate(-90)" font-size="28.8"><tspan x="-1.36" textLength="15.03" lengthAdjust="spacingAndGlyphs">2</tspan><tspan x="15.6" textLength="15.59" lengthAdjust="spacingAndGlyphs">0</tspan><tspan x="32.5" textLength="15.59" lengthAdjust="spacingAndGlyphs">0</tspan><tspan x="49.12" textLength="16.14" lengthAdjust="spacingAndGlyphs">6</tspan><tspan x="66.93" textLength="10.71" lengthAdjust="spacingAndGlyphs">–</tspan><tspan x="79.5" textLength="15.03" lengthAdjust="spacingAndGlyphs">2</tspan><tspan x="96.46" textLength="15.59" lengthAdjust="spacingAndGlyphs">0</tspan><tspan x="113.35" textLength="15.59" lengthAdjust="spacingAndGlyphs">0</tspan><tspan x="130.37" textLength="15.25" lengthAdjust="spacingAndGlyphs">7</tspan></text><text transform="translate(864.71 1190.12) rotate(-90)" font-size="28.8"><tspan x="-2" textLength="14.64" lengthAdjust="spacingAndGlyphs">1</tspan><tspan x="14.05" textLength="15.83" lengthAdjust="spacingAndGlyphs">9</tspan><tspan x="30.65" textLength="15.83" lengthAdjust="spacingAndGlyphs">9</tspan><tspan x="47.59" textLength="15.33" lengthAdjust="spacingAndGlyphs">0</tspan></text><text transform="translate(889.71 1271.12) rotate(-90)" font-size="28.8"><tspan x="-2.03" textLength="14.8" lengthAdjust="spacingAndGlyphs">1</tspan><tspan x="14.21" textLength="16.01" lengthAdjust="spacingAndGlyphs">9</tspan><tspan x="31.26" textLength="15.67" lengthAdjust="spacingAndGlyphs">8</tspan><tspan x="48.36" textLength="14.8" lengthAdjust="spacingAndGlyphs">1</tspan><tspan x="65.57" textLength="10.65" lengthAdjust="spacingAndGlyphs">–</tspan><tspan x="78.06" textLength="14.94" lengthAdjust="spacingAndGlyphs">2</tspan><tspan x="94.93" textLength="15.5" lengthAdjust="spacingAndGlyphs">0</tspan><tspan x="111.72" textLength="15.5" lengthAdjust="spacingAndGlyphs">0</tspan><tspan x="128.86" textLength="14.89" lengthAdjust="spacingAndGlyphs">3</tspan></text><text transform="translate(914.71 1272) rotate(-90)" font-size="28.8"><tspan x="-1.36" textLength="15.03" lengthAdjust="spacingAndGlyphs">2</tspan><tspan x="15.6" textLength="15.59" lengthAdjust="spacingAndGlyphs">0</tspan><tspan x="32.72" textLength="14.89" lengthAdjust="spacingAndGlyphs">1</tspan><tspan x="49.61" textLength="14.89" lengthAdjust="spacingAndGlyphs">1</tspan><tspan x="66.92" textLength="10.71" lengthAdjust="spacingAndGlyphs">–</tspan><tspan x="79.48" textLength="15.03" lengthAdjust="spacingAndGlyphs">2</tspan><tspan x="96.44" textLength="15.59" lengthAdjust="spacingAndGlyphs">0</tspan><tspan x="113.56" textLength="14.89" lengthAdjust="spacingAndGlyphs">1</tspan><tspan x="130.22" textLength="15.59" lengthAdjust="spacingAndGlyphs">4</tspan></text><text transform="translate(939.71 1205) rotate(-90)" font-size="28.8"><tspan x="-1.36" textLength="15.03" lengthAdjust="spacingAndGlyphs">2</tspan><tspan x="15.6" textLength="15.59" lengthAdjust="spacingAndGlyphs">0</tspan><tspan x="32.72" textLength="14.89" lengthAdjust="spacingAndGlyphs">1</tspan><tspan x="49.38" textLength="15.59" lengthAdjust="spacingAndGlyphs">4</tspan><tspan x="66.92" textLength="10.71" lengthAdjust="spacingAndGlyphs">–</tspan></text><text transform="translate(965.71 1271.12) rotate(-90)" font-size="28.8"><tspan x="-2.03" textLength="14.79" lengthAdjust="spacingAndGlyphs">1</tspan><tspan x="14.19" textLength="15.99" lengthAdjust="spacingAndGlyphs">9</tspan><tspan x="31.22" textLength="15.65" lengthAdjust="spacingAndGlyphs">8</tspan><tspan x="47.74" textLength="15.99" lengthAdjust="spacingAndGlyphs">9</tspan><tspan x="65.49" textLength="10.63" lengthAdjust="spacingAndGlyphs">–</tspan><tspan x="78.26" textLength="14.79" lengthAdjust="spacingAndGlyphs">1</tspan><tspan x="94.47" textLength="15.99" lengthAdjust="spacingAndGlyphs">9</tspan><tspan x="111.25" textLength="15.99" lengthAdjust="spacingAndGlyphs">9</tspan><tspan x="128.28" textLength="15.65" lengthAdjust="spacingAndGlyphs">8</tspan></text><text transform="translate(990.71 1271.12) rotate(-90)" font-size="28.8"><tspan x="-2.02" textLength="14.78" lengthAdjust="spacingAndGlyphs">1</tspan><tspan x="14.19" textLength="15.99" lengthAdjust="spacingAndGlyphs">9</tspan><tspan x="31.21" textLength="15.64" lengthAdjust="spacingAndGlyphs">8</tspan><tspan x="47.73" textLength="15.99" lengthAdjust="spacingAndGlyphs">9</tspan><tspan x="65.47" textLength="10.63" lengthAdjust="spacingAndGlyphs">–</tspan><tspan x="78.24" textLength="14.78" lengthAdjust="spacingAndGlyphs">1</tspan><tspan x="94.45" textLength="15.99" lengthAdjust="spacingAndGlyphs">9</tspan><tspan x="111.22" textLength="15.99" lengthAdjust="spacingAndGlyphs">9</tspan><tspan x="128.32" textLength="15.48" lengthAdjust="spacingAndGlyphs">0</tspan></text><text transform="translate(1014.71 1191) rotate(-90)" font-size="28.8"><tspan x="-1.36" textLength="15.04" lengthAdjust="spacingAndGlyphs">2</tspan><tspan x="15.61" textLength="15.6" lengthAdjust="spacingAndGlyphs">0</tspan><tspan x="32.45" textLength="15.04" lengthAdjust="spacingAndGlyphs">2</tspan><tspan x="49.65" textLength="14.9" lengthAdjust="spacingAndGlyphs">1</tspan></text><text transform="translate(1039.71 1191) rotate(-90)" font-size="28.8"><tspan x="-1.36" textLength="15.03" lengthAdjust="spacingAndGlyphs">2</tspan><tspan x="15.6" textLength="15.59" lengthAdjust="spacingAndGlyphs">0</tspan><tspan x="32.72" textLength="14.89" lengthAdjust="spacingAndGlyphs">1</tspan><tspan x="49.3" textLength="15.76" lengthAdjust="spacingAndGlyphs">8</tspan></text><text transform="translate(1064.71 1272) rotate(-90)" font-size="28.8"><tspan x="-1.36" textLength="15.05" lengthAdjust="spacingAndGlyphs">2</tspan><tspan x="15.62" textLength="15.61" lengthAdjust="spacingAndGlyphs">0</tspan><tspan x="32.77" textLength="14.91" lengthAdjust="spacingAndGlyphs">1</tspan><tspan x="49.45" textLength="15.61" lengthAdjust="spacingAndGlyphs">4</tspan><tspan x="67.02" textLength="10.72" lengthAdjust="spacingAndGlyphs">–</tspan><tspan x="79.6" textLength="15.05" lengthAdjust="spacingAndGlyphs">2</tspan><tspan x="96.58" textLength="15.61" lengthAdjust="spacingAndGlyphs">0</tspan><tspan x="113.43" textLength="15.05" lengthAdjust="spacingAndGlyphs">2</tspan><tspan x="130.76" textLength="14.99" lengthAdjust="spacingAndGlyphs">3</tspan></text><text transform="translate(1090.71 1271.12) rotate(-90)" font-size="28.8"><tspan x="-2.02" textLength="14.78" lengthAdjust="spacingAndGlyphs">1</tspan><tspan x="14.18" textLength="15.98" lengthAdjust="spacingAndGlyphs">9</tspan><tspan x="30.95" textLength="15.98" lengthAdjust="spacingAndGlyphs">9</tspan><tspan x="47.97" textLength="15.64" lengthAdjust="spacingAndGlyphs">8</tspan><tspan x="65.46" textLength="10.63" lengthAdjust="spacingAndGlyphs">–</tspan><tspan x="78.22" textLength="14.78" lengthAdjust="spacingAndGlyphs">1</tspan><tspan x="94.43" textLength="15.98" lengthAdjust="spacingAndGlyphs">9</tspan><tspan x="111.2" textLength="15.98" lengthAdjust="spacingAndGlyphs">9</tspan><tspan x="127.97" textLength="15.98" lengthAdjust="spacingAndGlyphs">9</tspan></text><text transform="translate(1114.71 1272) rotate(-90)" font-size="28.8"><tspan x="-1.36" textLength="15.04" lengthAdjust="spacingAndGlyphs">2</tspan><tspan x="15.62" textLength="15.61" lengthAdjust="spacingAndGlyphs">0</tspan><tspan x="32.75" textLength="14.9" lengthAdjust="spacingAndGlyphs">1</tspan><tspan x="49.78" textLength="14.99" lengthAdjust="spacingAndGlyphs">3</tspan><tspan x="66.99" textLength="10.72" lengthAdjust="spacingAndGlyphs">–</tspan><tspan x="79.57" textLength="15.04" lengthAdjust="spacingAndGlyphs">2</tspan><tspan x="96.54" textLength="15.61" lengthAdjust="spacingAndGlyphs">0</tspan><tspan x="113.68" textLength="14.9" lengthAdjust="spacingAndGlyphs">1</tspan><tspan x="130.48" textLength="15.27" lengthAdjust="spacingAndGlyphs">7</tspan></text><text transform="translate(1139.71 1272) rotate(-90)" font-size="28.8"><tspan x="-1.36" textLength="15.04" lengthAdjust="spacingAndGlyphs">2</tspan><tspan x="15.62" textLength="15.61" lengthAdjust="spacingAndGlyphs">0</tspan><tspan x="32.75" textLength="14.91" lengthAdjust="spacingAndGlyphs">1</tspan><tspan x="49.37" textLength="15.04" lengthAdjust="spacingAndGlyphs">2</tspan><tspan x="66.99" textLength="10.72" lengthAdjust="spacingAndGlyphs">–</tspan><tspan x="79.57" textLength="15.04" lengthAdjust="spacingAndGlyphs">2</tspan><tspan x="96.55" textLength="15.61" lengthAdjust="spacingAndGlyphs">0</tspan><tspan x="113.68" textLength="14.91" lengthAdjust="spacingAndGlyphs">1</tspan><tspan x="130.09" textLength="16.15" lengthAdjust="spacingAndGlyphs">6</tspan></text><text transform="translate(1164.71 1273) rotate(-90)" font-size="28.8"><tspan x="-1.36" textLength="15.06" lengthAdjust="spacingAndGlyphs">2</tspan><tspan x="15.64" textLength="15.63" lengthAdjust="spacingAndGlyphs">0</tspan><tspan x="32.79" textLength="14.92" lengthAdjust="spacingAndGlyphs">1</tspan><tspan x="49.42" textLength="15.79" lengthAdjust="spacingAndGlyphs">8</tspan><tspan x="67.07" textLength="10.73" lengthAdjust="spacingAndGlyphs">–</tspan><tspan x="79.67" textLength="15.06" lengthAdjust="spacingAndGlyphs">2</tspan><tspan x="96.67" textLength="15.63" lengthAdjust="spacingAndGlyphs">0</tspan><tspan x="113.53" textLength="15.06" lengthAdjust="spacingAndGlyphs">2</tspan><tspan x="130.87" textLength="15.01" lengthAdjust="spacingAndGlyphs">3</tspan></text><text transform="translate(1190.71 1271.12) rotate(-90)" font-size="28.8"><tspan x="-2.02" textLength="14.78" lengthAdjust="spacingAndGlyphs">1</tspan><tspan x="14.19" textLength="15.99" lengthAdjust="spacingAndGlyphs">9</tspan><tspan x="30.96" textLength="15.99" lengthAdjust="spacingAndGlyphs">9</tspan><tspan x="48.06" textLength="15.48" lengthAdjust="spacingAndGlyphs">4</tspan><tspan x="65.47" textLength="10.63" lengthAdjust="spacingAndGlyphs">–</tspan><tspan x="77.95" textLength="14.92" lengthAdjust="spacingAndGlyphs">2</tspan><tspan x="94.79" textLength="15.48" lengthAdjust="spacingAndGlyphs">0</tspan><tspan x="111.56" textLength="15.48" lengthAdjust="spacingAndGlyphs">0</tspan><tspan x="128.33" textLength="15.48" lengthAdjust="spacingAndGlyphs">4</tspan></text><text transform="translate(1214.71 1191) rotate(-90)" font-size="28.8"><tspan x="-1.36" textLength="15.04" lengthAdjust="spacingAndGlyphs">2</tspan><tspan x="15.61" textLength="15.6" lengthAdjust="spacingAndGlyphs">0</tspan><tspan x="32.74" textLength="14.9" lengthAdjust="spacingAndGlyphs">1</tspan><tspan x="49.77" textLength="14.98" lengthAdjust="spacingAndGlyphs">3</tspan></text><text transform="translate(1240.71 1205) rotate(-90)" font-size="28.8"><tspan x="-1.36" textLength="15.05" lengthAdjust="spacingAndGlyphs">2</tspan><tspan x="15.63" textLength="15.61" lengthAdjust="spacingAndGlyphs">0</tspan><tspan x="32.77" textLength="14.91" lengthAdjust="spacingAndGlyphs">1</tspan><tspan x="49.8" textLength="14.74" lengthAdjust="spacingAndGlyphs">5</tspan><tspan x="67.03" textLength="10.73" lengthAdjust="spacingAndGlyphs">–</tspan></text><text transform="translate(1265.71 1205) rotate(-90)" font-size="28.8"><tspan x="-1.36" textLength="15.05" lengthAdjust="spacingAndGlyphs">2</tspan><tspan x="15.63" textLength="15.61" lengthAdjust="spacingAndGlyphs">0</tspan><tspan x="32.55" textLength="15.61" lengthAdjust="spacingAndGlyphs">0</tspan><tspan x="49.8" textLength="14.74" lengthAdjust="spacingAndGlyphs">5</tspan><tspan x="67.03" textLength="10.73" lengthAdjust="spacingAndGlyphs">–</tspan></text><text transform="translate(1291.71 1271.12) rotate(-90)" font-size="28.8"><tspan x="-2.02" textLength="14.77" lengthAdjust="spacingAndGlyphs">1</tspan><tspan x="14.17" textLength="15.97" lengthAdjust="spacingAndGlyphs">9</tspan><tspan x="31" textLength="16.01" lengthAdjust="spacingAndGlyphs">6</tspan><tspan x="47.69" textLength="15.97" lengthAdjust="spacingAndGlyphs">9</tspan><tspan x="65.42" textLength="10.62" lengthAdjust="spacingAndGlyphs">–</tspan><tspan x="78.17" textLength="14.77" lengthAdjust="spacingAndGlyphs">1</tspan><tspan x="94.37" textLength="15.97" lengthAdjust="spacingAndGlyphs">9</tspan><tspan x="111.58" textLength="15.13" lengthAdjust="spacingAndGlyphs">7</tspan><tspan x="128.22" textLength="15.47" lengthAdjust="spacingAndGlyphs">4</tspan></text><text transform="translate(1316.71 1271.12) rotate(-90)" font-size="28.8"><tspan x="-2.03" textLength="14.79" lengthAdjust="spacingAndGlyphs">1</tspan><tspan x="14.19" textLength="15.99" lengthAdjust="spacingAndGlyphs">9</tspan><tspan x="30.96" textLength="15.99" lengthAdjust="spacingAndGlyphs">9</tspan><tspan x="47.74" textLength="15.99" lengthAdjust="spacingAndGlyphs">9</tspan><tspan x="65.49" textLength="10.63" lengthAdjust="spacingAndGlyphs">–</tspan><tspan x="77.97" textLength="14.92" lengthAdjust="spacingAndGlyphs">2</tspan><tspan x="94.81" textLength="15.48" lengthAdjust="spacingAndGlyphs">0</tspan><tspan x="111.58" textLength="15.48" lengthAdjust="spacingAndGlyphs">0</tspan><tspan x="128.09" textLength="16.02" lengthAdjust="spacingAndGlyphs">6</tspan></text><text transform="translate(1341.71 1190.12) rotate(-90)" font-size="28.8"><tspan x="-2.01" textLength="14.68" lengthAdjust="spacingAndGlyphs">1</tspan><tspan x="14.09" textLength="15.87" lengthAdjust="spacingAndGlyphs">9</tspan><tspan x="30.99" textLength="15.54" lengthAdjust="spacingAndGlyphs">8</tspan><tspan x="48.06" textLength="14.5" lengthAdjust="spacingAndGlyphs">5</tspan></text><text transform="translate(1365.71 1205) rotate(-90)" font-size="28.8"><tspan x="-1.36" textLength="15.03" lengthAdjust="spacingAndGlyphs">2</tspan><tspan x="15.6" textLength="15.59" lengthAdjust="spacingAndGlyphs">0</tspan><tspan x="32.49" textLength="15.59" lengthAdjust="spacingAndGlyphs">0</tspan><tspan x="49.38" textLength="15.59" lengthAdjust="spacingAndGlyphs">0</tspan><tspan x="66.92" textLength="10.71" lengthAdjust="spacingAndGlyphs">–</tspan></text><text transform="translate(1390.71 1272) rotate(-90)" font-size="28.8"><tspan x="-1.36" textLength="15.05" lengthAdjust="spacingAndGlyphs">2</tspan><tspan x="15.62" textLength="15.61" lengthAdjust="spacingAndGlyphs">0</tspan><tspan x="32.77" textLength="14.91" lengthAdjust="spacingAndGlyphs">1</tspan><tspan x="49.68" textLength="14.91" lengthAdjust="spacingAndGlyphs">1</tspan><tspan x="67.02" textLength="10.72" lengthAdjust="spacingAndGlyphs">–</tspan><tspan x="79.6" textLength="15.05" lengthAdjust="spacingAndGlyphs">2</tspan><tspan x="96.58" textLength="15.61" lengthAdjust="spacingAndGlyphs">0</tspan><tspan x="113.43" textLength="15.05" lengthAdjust="spacingAndGlyphs">2</tspan><tspan x="130.76" textLength="14.99" lengthAdjust="spacingAndGlyphs">3</tspan></text><text transform="translate(1416.71 1271.12) rotate(-90)" font-size="28.8"><tspan x="-2.02" textLength="14.78" lengthAdjust="spacingAndGlyphs">1</tspan><tspan x="14.18" textLength="15.98" lengthAdjust="spacingAndGlyphs">9</tspan><tspan x="31.41" textLength="15.14" lengthAdjust="spacingAndGlyphs">7</tspan><tspan x="48.39" textLength="14.6" lengthAdjust="spacingAndGlyphs">5</tspan><tspan x="65.46" textLength="10.63" lengthAdjust="spacingAndGlyphs">–</tspan><tspan x="78.22" textLength="14.78" lengthAdjust="spacingAndGlyphs">1</tspan><tspan x="94.43" textLength="15.98" lengthAdjust="spacingAndGlyphs">9</tspan><tspan x="111.65" textLength="15.14" lengthAdjust="spacingAndGlyphs">7</tspan><tspan x="127.97" textLength="15.98" lengthAdjust="spacingAndGlyphs">9</tspan></text><text transform="translate(1441.71 1190.12) rotate(-90)" font-size="28.8"><tspan x="-2.01" textLength="14.65" lengthAdjust="spacingAndGlyphs">1</tspan><tspan x="14.06" textLength="15.84" lengthAdjust="spacingAndGlyphs">9</tspan><tspan x="30.68" textLength="15.84" lengthAdjust="spacingAndGlyphs">9</tspan><tspan x="47.96" textLength="14.48" lengthAdjust="spacingAndGlyphs">5</tspan></text><text transform="translate(1466.71 1271.12) rotate(-90)" font-size="28.8"><tspan x="-2.02" textLength="14.78" lengthAdjust="spacingAndGlyphs">1</tspan><tspan x="14.19" textLength="15.99" lengthAdjust="spacingAndGlyphs">9</tspan><tspan x="30.96" textLength="15.99" lengthAdjust="spacingAndGlyphs">9</tspan><tspan x="47.73" textLength="15.99" lengthAdjust="spacingAndGlyphs">9</tspan><tspan x="65.47" textLength="10.63" lengthAdjust="spacingAndGlyphs">–</tspan><tspan x="77.94" textLength="14.92" lengthAdjust="spacingAndGlyphs">2</tspan><tspan x="94.78" textLength="15.48" lengthAdjust="spacingAndGlyphs">0</tspan><tspan x="111.55" textLength="15.48" lengthAdjust="spacingAndGlyphs">0</tspan><tspan x="128.32" textLength="15.48" lengthAdjust="spacingAndGlyphs">0</tspan></text><text transform="translate(1490.71 1272) rotate(-90)" font-size="28.8"><tspan x="-1.36" textLength="15.04" lengthAdjust="spacingAndGlyphs">2</tspan><tspan x="15.61" textLength="15.6" lengthAdjust="spacingAndGlyphs">0</tspan><tspan x="32.74" textLength="14.9" lengthAdjust="spacingAndGlyphs">1</tspan><tspan x="49.42" textLength="15.6" lengthAdjust="spacingAndGlyphs">4</tspan><tspan x="66.97" textLength="10.72" lengthAdjust="spacingAndGlyphs">–</tspan><tspan x="79.55" textLength="15.04" lengthAdjust="spacingAndGlyphs">2</tspan><tspan x="96.52" textLength="15.6" lengthAdjust="spacingAndGlyphs">0</tspan><tspan x="113.36" textLength="15.04" lengthAdjust="spacingAndGlyphs">2</tspan><tspan x="130.33" textLength="15.6" lengthAdjust="spacingAndGlyphs">0</tspan></text><text transform="translate(1516.71 1190.12) rotate(-90)" font-size="28.8"><tspan x="-2.01" textLength="14.66" lengthAdjust="spacingAndGlyphs">1</tspan><tspan x="14.07" textLength="15.86" lengthAdjust="spacingAndGlyphs">9</tspan><tspan x="30.95" textLength="15.52" lengthAdjust="spacingAndGlyphs">8</tspan><tspan x="47.33" textLength="15.86" lengthAdjust="spacingAndGlyphs">9</tspan></text><text transform="translate(1541.71 1271.12) rotate(-90)" font-size="28.8"><tspan x="-2.02" textLength="14.77" lengthAdjust="spacingAndGlyphs">1</tspan><tspan x="14.17" textLength="15.97" lengthAdjust="spacingAndGlyphs">9</tspan><tspan x="30.92" textLength="15.97" lengthAdjust="spacingAndGlyphs">9</tspan><tspan x="48.01" textLength="15.46" lengthAdjust="spacingAndGlyphs">0</tspan><tspan x="65.39" textLength="10.62" lengthAdjust="spacingAndGlyphs">–</tspan><tspan x="78.15" textLength="14.77" lengthAdjust="spacingAndGlyphs">1</tspan><tspan x="94.34" textLength="15.97" lengthAdjust="spacingAndGlyphs">9</tspan><tspan x="111.09" textLength="15.97" lengthAdjust="spacingAndGlyphs">9</tspan><tspan x="128.4" textLength="14.77" lengthAdjust="spacingAndGlyphs">1</tspan></text><text transform="translate(1566.71 1203.12) rotate(-90)" font-size="28.8"><tspan x="-2.01" textLength="14.69" lengthAdjust="spacingAndGlyphs">1</tspan><tspan x="14.1" textLength="15.89" lengthAdjust="spacingAndGlyphs">9</tspan><tspan x="30.76" textLength="15.89" lengthAdjust="spacingAndGlyphs">9</tspan><tspan x="47.43" textLength="15.89" lengthAdjust="spacingAndGlyphs">9</tspan><tspan x="65.06" textLength="10.56" lengthAdjust="spacingAndGlyphs">–</tspan></text><text transform="translate(1591.71 1205) rotate(-90)" font-size="28.8"><tspan x="-1.36" textLength="15.08" lengthAdjust="spacingAndGlyphs">2</tspan><tspan x="15.65" textLength="15.64" lengthAdjust="spacingAndGlyphs">0</tspan><tspan x="32.53" textLength="15.08" lengthAdjust="spacingAndGlyphs">2</tspan><tspan x="49.89" textLength="15.02" lengthAdjust="spacingAndGlyphs">3</tspan><tspan x="67.14" textLength="10.74" lengthAdjust="spacingAndGlyphs">–</tspan></text><text transform="translate(1616.71 1272) rotate(-90)" font-size="28.8"><tspan x="-1.36" textLength="15.04" lengthAdjust="spacingAndGlyphs">2</tspan><tspan x="15.62" textLength="15.61" lengthAdjust="spacingAndGlyphs">0</tspan><tspan x="32.75" textLength="14.9" lengthAdjust="spacingAndGlyphs">1</tspan><tspan x="49.77" textLength="14.73" lengthAdjust="spacingAndGlyphs">5</tspan><tspan x="66.99" textLength="10.72" lengthAdjust="spacingAndGlyphs">–</tspan><tspan x="79.57" textLength="15.04" lengthAdjust="spacingAndGlyphs">2</tspan><tspan x="96.54" textLength="15.61" lengthAdjust="spacingAndGlyphs">0</tspan><tspan x="113.68" textLength="14.9" lengthAdjust="spacingAndGlyphs">1</tspan><tspan x="130.48" textLength="15.27" lengthAdjust="spacingAndGlyphs">7</tspan></text><text transform="translate(1642.71 1271.12) rotate(-90)" font-size="28.8"><tspan x="-2.03" textLength="14.79" lengthAdjust="spacingAndGlyphs">1</tspan><tspan x="14.19" textLength="15.99" lengthAdjust="spacingAndGlyphs">9</tspan><tspan x="31.22" textLength="15.65" lengthAdjust="spacingAndGlyphs">8</tspan><tspan x="47.74" textLength="15.99" lengthAdjust="spacingAndGlyphs">9</tspan><tspan x="65.49" textLength="10.63" lengthAdjust="spacingAndGlyphs">–</tspan><tspan x="78.26" textLength="14.79" lengthAdjust="spacingAndGlyphs">1</tspan><tspan x="94.47" textLength="15.99" lengthAdjust="spacingAndGlyphs">9</tspan><tspan x="111.25" textLength="15.99" lengthAdjust="spacingAndGlyphs">9</tspan><tspan x="128.09" textLength="16.02" lengthAdjust="spacingAndGlyphs">6</tspan></text><text transform="translate(1666.71 1205) rotate(-90)" font-size="28.8"><tspan x="-1.36" textLength="15.03" lengthAdjust="spacingAndGlyphs">2</tspan><tspan x="15.6" textLength="15.59" lengthAdjust="spacingAndGlyphs">0</tspan><tspan x="32.72" textLength="14.89" lengthAdjust="spacingAndGlyphs">1</tspan><tspan x="49.61" textLength="14.89" lengthAdjust="spacingAndGlyphs">1</tspan><tspan x="66.92" textLength="10.71" lengthAdjust="spacingAndGlyphs">–</tspan></text><text transform="translate(1691.71 1272) rotate(-90)" font-size="28.8"><tspan x="-1.36" textLength="15.04" lengthAdjust="spacingAndGlyphs">2</tspan><tspan x="15.62" textLength="15.61" lengthAdjust="spacingAndGlyphs">0</tspan><tspan x="32.53" textLength="15.61" lengthAdjust="spacingAndGlyphs">0</tspan><tspan x="49.78" textLength="14.99" lengthAdjust="spacingAndGlyphs">3</tspan><tspan x="66.99" textLength="10.72" lengthAdjust="spacingAndGlyphs">–</tspan><tspan x="79.57" textLength="15.04" lengthAdjust="spacingAndGlyphs">2</tspan><tspan x="96.55" textLength="15.61" lengthAdjust="spacingAndGlyphs">0</tspan><tspan x="113.46" textLength="15.61" lengthAdjust="spacingAndGlyphs">0</tspan><tspan x="130.09" textLength="16.15" lengthAdjust="spacingAndGlyphs">6</tspan></text><text transform="translate(1717.71 1190.12) rotate(-90)" font-size="28.8"><tspan x="-2.01" textLength="14.65" lengthAdjust="spacingAndGlyphs">1</tspan><tspan x="14.05" textLength="15.84" lengthAdjust="spacingAndGlyphs">9</tspan><tspan x="31.12" textLength="15" lengthAdjust="spacingAndGlyphs">7</tspan><tspan x="47.35" textLength="15.87" lengthAdjust="spacingAndGlyphs">6</tspan></text><text transform="translate(1742.71 1203.12) rotate(-90)" font-size="28.8"><tspan x="-2.01" textLength="14.69" lengthAdjust="spacingAndGlyphs">1</tspan><tspan x="14.1" textLength="15.89" lengthAdjust="spacingAndGlyphs">9</tspan><tspan x="30.76" textLength="15.89" lengthAdjust="spacingAndGlyphs">9</tspan><tspan x="47.88" textLength="15.05" lengthAdjust="spacingAndGlyphs">7</tspan><tspan x="65.06" textLength="10.56" lengthAdjust="spacingAndGlyphs">–</tspan></text><text transform="translate(1766.71 1272) rotate(-90)" font-size="28.8"><tspan x="-1.36" textLength="15.03" lengthAdjust="spacingAndGlyphs">2</tspan><tspan x="15.61" textLength="15.6" lengthAdjust="spacingAndGlyphs">0</tspan><tspan x="32.74" textLength="14.9" lengthAdjust="spacingAndGlyphs">1</tspan><tspan x="49.07" textLength="16.11" lengthAdjust="spacingAndGlyphs">9</tspan><tspan x="66.95" textLength="10.71" lengthAdjust="spacingAndGlyphs">–</tspan><tspan x="79.53" textLength="15.03" lengthAdjust="spacingAndGlyphs">2</tspan><tspan x="96.5" textLength="15.6" lengthAdjust="spacingAndGlyphs">0</tspan><tspan x="113.33" textLength="15.03" lengthAdjust="spacingAndGlyphs">2</tspan><tspan x="130.52" textLength="14.9" lengthAdjust="spacingAndGlyphs">1</tspan></text><text transform="translate(1791.71 1272) rotate(-90)" font-size="28.8"><tspan x="-1.36" textLength="15.03" lengthAdjust="spacingAndGlyphs">2</tspan><tspan x="15.61" textLength="15.6" lengthAdjust="spacingAndGlyphs">0</tspan><tspan x="32.51" textLength="15.6" lengthAdjust="spacingAndGlyphs">0</tspan><tspan x="49.63" textLength="14.89" lengthAdjust="spacingAndGlyphs">1</tspan><tspan x="66.94" textLength="10.71" lengthAdjust="spacingAndGlyphs">–</tspan><tspan x="79.51" textLength="15.03" lengthAdjust="spacingAndGlyphs">2</tspan><tspan x="96.48" textLength="15.6" lengthAdjust="spacingAndGlyphs">0</tspan><tspan x="113.38" textLength="15.6" lengthAdjust="spacingAndGlyphs">0</tspan><tspan x="130.61" textLength="14.72" lengthAdjust="spacingAndGlyphs">5</tspan></text><text transform="translate(1816.71 1273) rotate(-90)" font-size="28.8"><tspan x="-1.36" textLength="15.06" lengthAdjust="spacingAndGlyphs">2</tspan><tspan x="15.64" textLength="15.63" lengthAdjust="spacingAndGlyphs">0</tspan><tspan x="32.5" textLength="15.06" lengthAdjust="spacingAndGlyphs">2</tspan><tspan x="49.5" textLength="15.63" lengthAdjust="spacingAndGlyphs">0</tspan><tspan x="67.07" textLength="10.73" lengthAdjust="spacingAndGlyphs">–</tspan><tspan x="79.67" textLength="15.06" lengthAdjust="spacingAndGlyphs">2</tspan><tspan x="96.67" textLength="15.63" lengthAdjust="spacingAndGlyphs">0</tspan><tspan x="113.53" textLength="15.06" lengthAdjust="spacingAndGlyphs">2</tspan><tspan x="130.87" textLength="15.01" lengthAdjust="spacingAndGlyphs">3</tspan></text><text transform="translate(1841.71 1273) rotate(-90)" font-size="28.8"><tspan x="-1.36" textLength="15.07" lengthAdjust="spacingAndGlyphs">2</tspan><tspan x="15.65" textLength="15.63" lengthAdjust="spacingAndGlyphs">0</tspan><tspan x="32.81" textLength="14.93" lengthAdjust="spacingAndGlyphs">1</tspan><tspan x="49.87" textLength="15.01" lengthAdjust="spacingAndGlyphs">3</tspan><tspan x="67.11" textLength="10.74" lengthAdjust="spacingAndGlyphs">–</tspan><tspan x="79.71" textLength="15.07" lengthAdjust="spacingAndGlyphs">2</tspan><tspan x="96.72" textLength="15.63" lengthAdjust="spacingAndGlyphs">0</tspan><tspan x="113.59" textLength="15.07" lengthAdjust="spacingAndGlyphs">2</tspan><tspan x="130.53" textLength="15.07" lengthAdjust="spacingAndGlyphs">2</tspan></text><text transform="translate(1867.71 1272) rotate(-90)" font-size="28.8"><tspan x="-1.36" textLength="15.04" lengthAdjust="spacingAndGlyphs">2</tspan><tspan x="15.62" textLength="15.61" lengthAdjust="spacingAndGlyphs">0</tspan><tspan x="32.53" textLength="15.61" lengthAdjust="spacingAndGlyphs">0</tspan><tspan x="49.77" textLength="14.73" lengthAdjust="spacingAndGlyphs">5</tspan><tspan x="66.99" textLength="10.72" lengthAdjust="spacingAndGlyphs">–</tspan><tspan x="79.57" textLength="15.04" lengthAdjust="spacingAndGlyphs">2</tspan><tspan x="96.54" textLength="15.61" lengthAdjust="spacingAndGlyphs">0</tspan><tspan x="113.45" textLength="15.61" lengthAdjust="spacingAndGlyphs">0</tspan><tspan x="130.48" textLength="15.27" lengthAdjust="spacingAndGlyphs">7</tspan></text><text transform="translate(1892.71 1271.12) rotate(-90)" font-size="28.8"><tspan x="-2.03" textLength="14.79" lengthAdjust="spacingAndGlyphs">1</tspan><tspan x="14.19" textLength="16" lengthAdjust="spacingAndGlyphs">9</tspan><tspan x="30.98" textLength="16" lengthAdjust="spacingAndGlyphs">9</tspan><tspan x="48.21" textLength="15.15" lengthAdjust="spacingAndGlyphs">7</tspan><tspan x="65.51" textLength="10.64" lengthAdjust="spacingAndGlyphs">–</tspan><tspan x="77.99" textLength="14.93" lengthAdjust="spacingAndGlyphs">2</tspan><tspan x="94.84" textLength="15.49" lengthAdjust="spacingAndGlyphs">0</tspan><tspan x="111.62" textLength="15.49" lengthAdjust="spacingAndGlyphs">0</tspan><tspan x="128.75" textLength="14.87" lengthAdjust="spacingAndGlyphs">3</tspan></text><text transform="translate(1917.71 1272) rotate(-90)" font-size="28.8"><tspan x="-1.36" textLength="15.03" lengthAdjust="spacingAndGlyphs">2</tspan><tspan x="15.61" textLength="15.6" lengthAdjust="spacingAndGlyphs">0</tspan><tspan x="32.73" textLength="14.89" lengthAdjust="spacingAndGlyphs">1</tspan><tspan x="49.63" textLength="14.89" lengthAdjust="spacingAndGlyphs">1</tspan><tspan x="66.94" textLength="10.71" lengthAdjust="spacingAndGlyphs">–</tspan><tspan x="79.51" textLength="15.03" lengthAdjust="spacingAndGlyphs">2</tspan><tspan x="96.48" textLength="15.6" lengthAdjust="spacingAndGlyphs">0</tspan><tspan x="113.6" textLength="14.89" lengthAdjust="spacingAndGlyphs">1</tspan><tspan x="130.61" textLength="14.72" lengthAdjust="spacingAndGlyphs">5</tspan></text><text transform="translate(1942.71 1205) rotate(-90)" font-size="28.8"><tspan x="-1.36" textLength="15.03" lengthAdjust="spacingAndGlyphs">2</tspan><tspan x="15.6" textLength="15.59" lengthAdjust="spacingAndGlyphs">0</tspan><tspan x="32.72" textLength="14.89" lengthAdjust="spacingAndGlyphs">1</tspan><tspan x="49.04" textLength="16.1" lengthAdjust="spacingAndGlyphs">9</tspan><tspan x="66.92" textLength="10.71" lengthAdjust="spacingAndGlyphs">–</tspan></text><text transform="translate(1967.71 1272) rotate(-90)" font-size="28.8"><tspan x="-1.36" textLength="15.04" lengthAdjust="spacingAndGlyphs">2</tspan><tspan x="15.61" textLength="15.6" lengthAdjust="spacingAndGlyphs">0</tspan><tspan x="32.74" textLength="14.9" lengthAdjust="spacingAndGlyphs">1</tspan><tspan x="49.54" textLength="15.26" lengthAdjust="spacingAndGlyphs">7</tspan><tspan x="66.97" textLength="10.72" lengthAdjust="spacingAndGlyphs">–</tspan><tspan x="79.55" textLength="15.04" lengthAdjust="spacingAndGlyphs">2</tspan><tspan x="96.52" textLength="15.6" lengthAdjust="spacingAndGlyphs">0</tspan><tspan x="113.36" textLength="15.04" lengthAdjust="spacingAndGlyphs">2</tspan><tspan x="130.33" textLength="15.6" lengthAdjust="spacingAndGlyphs">0</tspan></text><text transform="translate(1992.71 1205) rotate(-90)" font-size="28.8"><tspan x="-1.36" textLength="15.05" lengthAdjust="spacingAndGlyphs">2</tspan><tspan x="15.63" textLength="15.61" lengthAdjust="spacingAndGlyphs">0</tspan><tspan x="32.48" textLength="15.05" lengthAdjust="spacingAndGlyphs">2</tspan><tspan x="49.46" textLength="15.61" lengthAdjust="spacingAndGlyphs">0</tspan><tspan x="67.03" textLength="10.73" lengthAdjust="spacingAndGlyphs">–</tspan></text><text transform="translate(2017.71 1272) rotate(-90)" font-size="28.8"><tspan x="-1.36" textLength="15.02" lengthAdjust="spacingAndGlyphs">2</tspan><tspan x="15.6" textLength="15.59" lengthAdjust="spacingAndGlyphs">0</tspan><tspan x="32.71" textLength="14.89" lengthAdjust="spacingAndGlyphs">1</tspan><tspan x="49.1" textLength="16.13" lengthAdjust="spacingAndGlyphs">6</tspan><tspan x="66.9" textLength="10.71" lengthAdjust="spacingAndGlyphs">–</tspan><tspan x="79.47" textLength="15.02" lengthAdjust="spacingAndGlyphs">2</tspan><tspan x="96.42" textLength="15.59" lengthAdjust="spacingAndGlyphs">0</tspan><tspan x="113.54" textLength="14.89" lengthAdjust="spacingAndGlyphs">1</tspan><tspan x="129.86" textLength="16.1" lengthAdjust="spacingAndGlyphs">9</tspan></text><text transform="translate(2042.71 1272) rotate(-90)" font-size="28.8"><tspan x="-1.36" textLength="15.04" lengthAdjust="spacingAndGlyphs">2</tspan><tspan x="15.61" textLength="15.6" lengthAdjust="spacingAndGlyphs">0</tspan><tspan x="32.52" textLength="15.6" lengthAdjust="spacingAndGlyphs">0</tspan><tspan x="49.76" textLength="14.98" lengthAdjust="spacingAndGlyphs">3</tspan><tspan x="66.96" textLength="10.72" lengthAdjust="spacingAndGlyphs">–</tspan><tspan x="79.54" textLength="15.04" lengthAdjust="spacingAndGlyphs">2</tspan><tspan x="96.51" textLength="15.6" lengthAdjust="spacingAndGlyphs">0</tspan><tspan x="113.64" textLength="14.9" lengthAdjust="spacingAndGlyphs">1</tspan><tspan x="129.97" textLength="16.11" lengthAdjust="spacingAndGlyphs">9</tspan></text><text transform="translate(2068.71 1204.12) rotate(-90)" font-size="28.8"><tspan x="-2.02" textLength="14.71" lengthAdjust="spacingAndGlyphs">1</tspan><tspan x="14.12" textLength="15.91" lengthAdjust="spacingAndGlyphs">9</tspan><tspan x="31.07" textLength="15.57" lengthAdjust="spacingAndGlyphs">8</tspan><tspan x="47.51" textLength="15.91" lengthAdjust="spacingAndGlyphs">9</tspan><tspan x="65.17" textLength="10.58" lengthAdjust="spacingAndGlyphs">–</tspan></text><text transform="translate(2092.71 1272) rotate(-90)" font-size="28.8"><tspan x="-1.36" textLength="15.02" lengthAdjust="spacingAndGlyphs">2</tspan><tspan x="15.6" textLength="15.59" lengthAdjust="spacingAndGlyphs">0</tspan><tspan x="32.49" textLength="15.59" lengthAdjust="spacingAndGlyphs">0</tspan><tspan x="49.37" textLength="15.59" lengthAdjust="spacingAndGlyphs">4</tspan><tspan x="66.9" textLength="10.71" lengthAdjust="spacingAndGlyphs">–</tspan><tspan x="79.47" textLength="15.02" lengthAdjust="spacingAndGlyphs">2</tspan><tspan x="96.42" textLength="15.59" lengthAdjust="spacingAndGlyphs">0</tspan><tspan x="113.31" textLength="15.59" lengthAdjust="spacingAndGlyphs">0</tspan><tspan x="129.86" textLength="16.1" lengthAdjust="spacingAndGlyphs">9</tspan></text><text transform="translate(2117.71 1272) rotate(-90)" font-size="28.8"><tspan x="-1.36" textLength="15.04" lengthAdjust="spacingAndGlyphs">2</tspan><tspan x="15.61" textLength="15.6" lengthAdjust="spacingAndGlyphs">0</tspan><tspan x="32.74" textLength="14.9" lengthAdjust="spacingAndGlyphs">1</tspan><tspan x="49.75" textLength="14.72" lengthAdjust="spacingAndGlyphs">5</tspan><tspan x="66.96" textLength="10.72" lengthAdjust="spacingAndGlyphs">–</tspan><tspan x="79.54" textLength="15.04" lengthAdjust="spacingAndGlyphs">2</tspan><tspan x="96.51" textLength="15.6" lengthAdjust="spacingAndGlyphs">0</tspan><tspan x="113.64" textLength="14.9" lengthAdjust="spacingAndGlyphs">1</tspan><tspan x="129.97" textLength="16.11" lengthAdjust="spacingAndGlyphs">9</tspan></text><text transform="translate(2142.71 1272) rotate(-90)" font-size="28.8"><tspan x="-1.36" textLength="15.03" lengthAdjust="spacingAndGlyphs">2</tspan><tspan x="15.61" textLength="15.6" lengthAdjust="spacingAndGlyphs">0</tspan><tspan x="32.73" textLength="14.89" lengthAdjust="spacingAndGlyphs">1</tspan><tspan x="49.4" textLength="15.6" lengthAdjust="spacingAndGlyphs">0</tspan><tspan x="66.94" textLength="10.71" lengthAdjust="spacingAndGlyphs">–</tspan><tspan x="79.51" textLength="15.03" lengthAdjust="spacingAndGlyphs">2</tspan><tspan x="96.48" textLength="15.6" lengthAdjust="spacingAndGlyphs">0</tspan><tspan x="113.6" textLength="14.89" lengthAdjust="spacingAndGlyphs">1</tspan><tspan x="130.61" textLength="14.72" lengthAdjust="spacingAndGlyphs">5</tspan></text><text transform="translate(2167.71 1272) rotate(-90)" font-size="28.8"><tspan x="-1.36" textLength="15.04" lengthAdjust="spacingAndGlyphs">2</tspan><tspan x="15.62" textLength="15.61" lengthAdjust="spacingAndGlyphs">0</tspan><tspan x="32.53" textLength="15.61" lengthAdjust="spacingAndGlyphs">0</tspan><tspan x="49.44" textLength="15.61" lengthAdjust="spacingAndGlyphs">4</tspan><tspan x="67" textLength="10.72" lengthAdjust="spacingAndGlyphs">–</tspan><tspan x="79.57" textLength="15.04" lengthAdjust="spacingAndGlyphs">2</tspan><tspan x="96.56" textLength="15.61" lengthAdjust="spacingAndGlyphs">0</tspan><tspan x="113.69" textLength="14.91" lengthAdjust="spacingAndGlyphs">1</tspan><tspan x="130.31" textLength="15.04" lengthAdjust="spacingAndGlyphs">2</tspan></text><text transform="translate(2193.71 1205) rotate(-90)" font-size="28.8"><tspan x="-1.36" textLength="15.08" lengthAdjust="spacingAndGlyphs">2</tspan><tspan x="15.65" textLength="15.64" lengthAdjust="spacingAndGlyphs">0</tspan><tspan x="32.53" textLength="15.08" lengthAdjust="spacingAndGlyphs">2</tspan><tspan x="49.48" textLength="15.08" lengthAdjust="spacingAndGlyphs">2</tspan><tspan x="67.14" textLength="10.74" lengthAdjust="spacingAndGlyphs">–</tspan></text><text transform="translate(2218.71 1272) rotate(-90)" font-size="28.8"><tspan x="-1.36" textLength="15.03" lengthAdjust="spacingAndGlyphs">2</tspan><tspan x="15.6" textLength="15.59" lengthAdjust="spacingAndGlyphs">0</tspan><tspan x="32.5" textLength="15.59" lengthAdjust="spacingAndGlyphs">0</tspan><tspan x="49.39" textLength="15.59" lengthAdjust="spacingAndGlyphs">4</tspan><tspan x="66.93" textLength="10.71" lengthAdjust="spacingAndGlyphs">–</tspan><tspan x="79.5" textLength="15.03" lengthAdjust="spacingAndGlyphs">2</tspan><tspan x="96.46" textLength="15.59" lengthAdjust="spacingAndGlyphs">0</tspan><tspan x="113.58" textLength="14.89" lengthAdjust="spacingAndGlyphs">1</tspan><tspan x="130.37" textLength="15.25" lengthAdjust="spacingAndGlyphs">7</tspan></text><text transform="translate(2243.71 1272) rotate(-90)" font-size="28.8"><tspan x="-1.36" textLength="15.04" lengthAdjust="spacingAndGlyphs">2</tspan><tspan x="15.61" textLength="15.6" lengthAdjust="spacingAndGlyphs">0</tspan><tspan x="32.74" textLength="14.9" lengthAdjust="spacingAndGlyphs">1</tspan><tspan x="49.15" textLength="16.15" lengthAdjust="spacingAndGlyphs">6</tspan><tspan x="66.97" textLength="10.72" lengthAdjust="spacingAndGlyphs">–</tspan><tspan x="79.55" textLength="15.04" lengthAdjust="spacingAndGlyphs">2</tspan><tspan x="96.52" textLength="15.6" lengthAdjust="spacingAndGlyphs">0</tspan><tspan x="113.36" textLength="15.04" lengthAdjust="spacingAndGlyphs">2</tspan><tspan x="130.33" textLength="15.6" lengthAdjust="spacingAndGlyphs">4</tspan></text><text transform="translate(2268.71 1272) rotate(-90)" font-size="28.8"><tspan x="-1.36" textLength="15.03" lengthAdjust="spacingAndGlyphs">2</tspan><tspan x="15.61" textLength="15.6" lengthAdjust="spacingAndGlyphs">0</tspan><tspan x="32.51" textLength="15.6" lengthAdjust="spacingAndGlyphs">0</tspan><tspan x="49.52" textLength="15.25" lengthAdjust="spacingAndGlyphs">7</tspan><tspan x="66.94" textLength="10.71" lengthAdjust="spacingAndGlyphs">–</tspan><tspan x="79.51" textLength="15.03" lengthAdjust="spacingAndGlyphs">2</tspan><tspan x="96.48" textLength="15.6" lengthAdjust="spacingAndGlyphs">0</tspan><tspan x="113.6" textLength="14.89" lengthAdjust="spacingAndGlyphs">1</tspan><tspan x="130.61" textLength="14.72" lengthAdjust="spacingAndGlyphs">5</tspan></text><text transform="translate(2293.71 1272) rotate(-90)" font-size="28.8"><tspan x="-1.36" textLength="15.05" lengthAdjust="spacingAndGlyphs">2</tspan><tspan x="15.62" textLength="15.61" lengthAdjust="spacingAndGlyphs">0</tspan><tspan x="32.53" textLength="15.61" lengthAdjust="spacingAndGlyphs">0</tspan><tspan x="49.79" textLength="14.99" lengthAdjust="spacingAndGlyphs">3</tspan><tspan x="67" textLength="10.72" lengthAdjust="spacingAndGlyphs">–</tspan><tspan x="79.58" textLength="15.05" lengthAdjust="spacingAndGlyphs">2</tspan><tspan x="96.56" textLength="15.61" lengthAdjust="spacingAndGlyphs">0</tspan><tspan x="113.7" textLength="14.91" lengthAdjust="spacingAndGlyphs">1</tspan><tspan x="130.72" textLength="14.73" lengthAdjust="spacingAndGlyphs">5</tspan></text><text transform="translate(2319.71 1271.12) rotate(-90)" font-size="28.8"><tspan x="-2.02" textLength="14.78" lengthAdjust="spacingAndGlyphs">1</tspan><tspan x="14.19" textLength="15.99" lengthAdjust="spacingAndGlyphs">9</tspan><tspan x="31.21" textLength="15.65" lengthAdjust="spacingAndGlyphs">8</tspan><tspan x="48.18" textLength="15.14" lengthAdjust="spacingAndGlyphs">7</tspan><tspan x="65.47" textLength="10.63" lengthAdjust="spacingAndGlyphs">–</tspan><tspan x="78.24" textLength="14.78" lengthAdjust="spacingAndGlyphs">1</tspan><tspan x="94.45" textLength="15.99" lengthAdjust="spacingAndGlyphs">9</tspan><tspan x="111.22" textLength="15.99" lengthAdjust="spacingAndGlyphs">9</tspan><tspan x="128.33" textLength="15.48" lengthAdjust="spacingAndGlyphs">4</tspan></text><text transform="translate(2344.71 1271.12) rotate(-90)" font-size="28.8"><tspan x="-2.02" textLength="14.77" lengthAdjust="spacingAndGlyphs">1</tspan><tspan x="14.18" textLength="15.98" lengthAdjust="spacingAndGlyphs">9</tspan><tspan x="30.94" textLength="15.98" lengthAdjust="spacingAndGlyphs">9</tspan><tspan x="48.15" textLength="15.13" lengthAdjust="spacingAndGlyphs">7</tspan><tspan x="65.43" textLength="10.62" lengthAdjust="spacingAndGlyphs">–</tspan><tspan x="78.19" textLength="14.77" lengthAdjust="spacingAndGlyphs">1</tspan><tspan x="94.39" textLength="15.98" lengthAdjust="spacingAndGlyphs">9</tspan><tspan x="111.15" textLength="15.98" lengthAdjust="spacingAndGlyphs">9</tspan><tspan x="128.16" textLength="15.64" lengthAdjust="spacingAndGlyphs">8</tspan></text><text transform="translate(2369.71 1271.12) rotate(-90)" font-size="28.8"><tspan x="-2.03" textLength="14.8" lengthAdjust="spacingAndGlyphs">1</tspan><tspan x="14.2" textLength="16.01" lengthAdjust="spacingAndGlyphs">9</tspan><tspan x="31.25" textLength="15.66" lengthAdjust="spacingAndGlyphs">8</tspan><tspan x="48.12" textLength="15.5" lengthAdjust="spacingAndGlyphs">4</tspan><tspan x="65.55" textLength="10.64" lengthAdjust="spacingAndGlyphs">–</tspan><tspan x="78.34" textLength="14.8" lengthAdjust="spacingAndGlyphs">1</tspan><tspan x="94.57" textLength="16.01" lengthAdjust="spacingAndGlyphs">9</tspan><tspan x="111.61" textLength="15.66" lengthAdjust="spacingAndGlyphs">8</tspan><tspan x="128.82" textLength="14.63" lengthAdjust="spacingAndGlyphs">5</tspan></text><text transform="translate(2393.71 1272) rotate(-90)" font-size="28.8"><tspan x="-1.36" textLength="15.05" lengthAdjust="spacingAndGlyphs">2</tspan><tspan x="15.62" textLength="15.61" lengthAdjust="spacingAndGlyphs">0</tspan><tspan x="32.77" textLength="14.91" lengthAdjust="spacingAndGlyphs">1</tspan><tspan x="49.58" textLength="15.27" lengthAdjust="spacingAndGlyphs">7</tspan><tspan x="67.02" textLength="10.72" lengthAdjust="spacingAndGlyphs">–</tspan><tspan x="79.6" textLength="15.05" lengthAdjust="spacingAndGlyphs">2</tspan><tspan x="96.58" textLength="15.61" lengthAdjust="spacingAndGlyphs">0</tspan><tspan x="113.43" textLength="15.05" lengthAdjust="spacingAndGlyphs">2</tspan><tspan x="130.76" textLength="14.99" lengthAdjust="spacingAndGlyphs">3</tspan></text><text transform="translate(2419.71 1271.12) rotate(-90)" font-size="28.8"><tspan x="-2.03" textLength="14.8" lengthAdjust="spacingAndGlyphs">1</tspan><tspan x="14.2" textLength="16" lengthAdjust="spacingAndGlyphs">9</tspan><tspan x="31.24" textLength="15.66" lengthAdjust="spacingAndGlyphs">8</tspan><tspan x="48.02" textLength="15.66" lengthAdjust="spacingAndGlyphs">8</tspan><tspan x="65.53" textLength="10.64" lengthAdjust="spacingAndGlyphs">–</tspan><tspan x="78.3" textLength="14.8" lengthAdjust="spacingAndGlyphs">1</tspan><tspan x="94.53" textLength="16" lengthAdjust="spacingAndGlyphs">9</tspan><tspan x="111.31" textLength="16" lengthAdjust="spacingAndGlyphs">9</tspan><tspan x="128.44" textLength="15.49" lengthAdjust="spacingAndGlyphs">0</tspan></text><text transform="translate(2443.71 1272) rotate(-90)" font-size="28.8"><tspan x="-1.36" textLength="15.02" lengthAdjust="spacingAndGlyphs">2</tspan><tspan x="15.6" textLength="15.58" lengthAdjust="spacingAndGlyphs">0</tspan><tspan x="32.48" textLength="15.58" lengthAdjust="spacingAndGlyphs">0</tspan><tspan x="49.1" textLength="16.13" lengthAdjust="spacingAndGlyphs">6</tspan><tspan x="66.9" textLength="10.7" lengthAdjust="spacingAndGlyphs">–</tspan><tspan x="79.46" textLength="15.02" lengthAdjust="spacingAndGlyphs">2</tspan><tspan x="96.41" textLength="15.58" lengthAdjust="spacingAndGlyphs">0</tspan><tspan x="113.52" textLength="14.88" lengthAdjust="spacingAndGlyphs">1</tspan><tspan x="130.41" textLength="14.88" lengthAdjust="spacingAndGlyphs">1</tspan></text><text transform="translate(2468.71 1205) rotate(-90)" font-size="28.8"><tspan x="-1.36" textLength="15.03" lengthAdjust="spacingAndGlyphs">2</tspan><tspan x="15.6" textLength="15.59" lengthAdjust="spacingAndGlyphs">0</tspan><tspan x="32.72" textLength="14.89" lengthAdjust="spacingAndGlyphs">1</tspan><tspan x="49.11" textLength="16.13" lengthAdjust="spacingAndGlyphs">6</tspan><tspan x="66.92" textLength="10.71" lengthAdjust="spacingAndGlyphs">–</tspan></text><text transform="translate(2493.71 1205) rotate(-90)" font-size="28.8"><tspan x="-1.36" textLength="15.05" lengthAdjust="spacingAndGlyphs">2</tspan><tspan x="15.63" textLength="15.61" lengthAdjust="spacingAndGlyphs">0</tspan><tspan x="32.55" textLength="15.61" lengthAdjust="spacingAndGlyphs">0</tspan><tspan x="49.4" textLength="15.05" lengthAdjust="spacingAndGlyphs">2</tspan><tspan x="67.03" textLength="10.73" lengthAdjust="spacingAndGlyphs">–</tspan></text><text transform="translate(2519.71 1272) rotate(-90)" font-size="28.8"><tspan x="-1.36" textLength="15.03" lengthAdjust="spacingAndGlyphs">2</tspan><tspan x="15.61" textLength="15.59" lengthAdjust="spacingAndGlyphs">0</tspan><tspan x="32.5" textLength="15.59" lengthAdjust="spacingAndGlyphs">0</tspan><tspan x="49.39" textLength="15.59" lengthAdjust="spacingAndGlyphs">4</tspan><tspan x="66.93" textLength="10.71" lengthAdjust="spacingAndGlyphs">–</tspan><tspan x="79.5" textLength="15.03" lengthAdjust="spacingAndGlyphs">2</tspan><tspan x="96.46" textLength="15.59" lengthAdjust="spacingAndGlyphs">0</tspan><tspan x="113.36" textLength="15.59" lengthAdjust="spacingAndGlyphs">0</tspan><tspan x="129.98" textLength="16.14" lengthAdjust="spacingAndGlyphs">6</tspan></text><text transform="translate(2544.71 1272) rotate(-90)" font-size="28.8"><tspan x="-1.36" textLength="15.04" lengthAdjust="spacingAndGlyphs">2</tspan><tspan x="15.62" textLength="15.61" lengthAdjust="spacingAndGlyphs">0</tspan><tspan x="32.75" textLength="14.91" lengthAdjust="spacingAndGlyphs">1</tspan><tspan x="49.78" textLength="14.99" lengthAdjust="spacingAndGlyphs">3</tspan><tspan x="66.99" textLength="10.72" lengthAdjust="spacingAndGlyphs">–</tspan><tspan x="79.57" textLength="15.04" lengthAdjust="spacingAndGlyphs">2</tspan><tspan x="96.55" textLength="15.61" lengthAdjust="spacingAndGlyphs">0</tspan><tspan x="113.68" textLength="14.91" lengthAdjust="spacingAndGlyphs">1</tspan><tspan x="130.28" textLength="15.78" lengthAdjust="spacingAndGlyphs">8</tspan></text><text transform="translate(2569.71 1272) rotate(-90)" font-size="28.8"><tspan x="-1.36" textLength="15.02" lengthAdjust="spacingAndGlyphs">2</tspan><tspan x="15.6" textLength="15.59" lengthAdjust="spacingAndGlyphs">0</tspan><tspan x="32.71" textLength="14.89" lengthAdjust="spacingAndGlyphs">1</tspan><tspan x="49.38" textLength="15.59" lengthAdjust="spacingAndGlyphs">0</tspan><tspan x="66.9" textLength="10.71" lengthAdjust="spacingAndGlyphs">–</tspan><tspan x="79.47" textLength="15.02" lengthAdjust="spacingAndGlyphs">2</tspan><tspan x="96.42" textLength="15.59" lengthAdjust="spacingAndGlyphs">0</tspan><tspan x="113.54" textLength="14.89" lengthAdjust="spacingAndGlyphs">1</tspan><tspan x="129.86" textLength="16.1" lengthAdjust="spacingAndGlyphs">9</tspan></text><text transform="translate(2594.71 1273) rotate(-90)" font-size="28.8"><tspan x="-1.36" textLength="15.07" lengthAdjust="spacingAndGlyphs">2</tspan><tspan x="15.65" textLength="15.63" lengthAdjust="spacingAndGlyphs">0</tspan><tspan x="32.52" textLength="15.07" lengthAdjust="spacingAndGlyphs">2</tspan><tspan x="49.75" textLength="14.93" lengthAdjust="spacingAndGlyphs">1</tspan><tspan x="67.11" textLength="10.74" lengthAdjust="spacingAndGlyphs">–</tspan><tspan x="79.71" textLength="15.07" lengthAdjust="spacingAndGlyphs">2</tspan><tspan x="96.72" textLength="15.63" lengthAdjust="spacingAndGlyphs">0</tspan><tspan x="113.59" textLength="15.07" lengthAdjust="spacingAndGlyphs">2</tspan><tspan x="130.53" textLength="15.07" lengthAdjust="spacingAndGlyphs">2</tspan></text><text transform="translate(2619.71 1272) rotate(-90)" font-size="28.8"><tspan x="-1.36" textLength="15.06" lengthAdjust="spacingAndGlyphs">2</tspan><tspan x="15.63" textLength="15.62" lengthAdjust="spacingAndGlyphs">0</tspan><tspan x="32.56" textLength="15.62" lengthAdjust="spacingAndGlyphs">0</tspan><tspan x="49.82" textLength="14.74" lengthAdjust="spacingAndGlyphs">5</tspan><tspan x="67.05" textLength="10.73" lengthAdjust="spacingAndGlyphs">–</tspan><tspan x="79.64" textLength="15.06" lengthAdjust="spacingAndGlyphs">2</tspan><tspan x="96.64" textLength="15.62" lengthAdjust="spacingAndGlyphs">0</tspan><tspan x="113.79" textLength="14.92" lengthAdjust="spacingAndGlyphs">1</tspan><tspan x="130.42" textLength="15.06" lengthAdjust="spacingAndGlyphs">2</tspan></text><text transform="translate(2644.71 1272) rotate(-90)" font-size="28.8"><tspan x="-1.36" textLength="15.05" lengthAdjust="spacingAndGlyphs">2</tspan><tspan x="15.62" textLength="15.61" lengthAdjust="spacingAndGlyphs">0</tspan><tspan x="32.76" textLength="14.91" lengthAdjust="spacingAndGlyphs">1</tspan><tspan x="49.39" textLength="15.05" lengthAdjust="spacingAndGlyphs">2</tspan><tspan x="67.01" textLength="10.72" lengthAdjust="spacingAndGlyphs">–</tspan><tspan x="79.6" textLength="15.05" lengthAdjust="spacingAndGlyphs">2</tspan><tspan x="96.58" textLength="15.61" lengthAdjust="spacingAndGlyphs">0</tspan><tspan x="113.43" textLength="15.05" lengthAdjust="spacingAndGlyphs">2</tspan><tspan x="130.64" textLength="14.91" lengthAdjust="spacingAndGlyphs">1</tspan></text><text transform="translate(2669.71 1272) rotate(-90)" font-size="28.8"><tspan x="-1.36" textLength="15.05" lengthAdjust="spacingAndGlyphs">2</tspan><tspan x="15.62" textLength="15.61" lengthAdjust="spacingAndGlyphs">0</tspan><tspan x="32.77" textLength="14.91" lengthAdjust="spacingAndGlyphs">1</tspan><tspan x="49.18" textLength="16.16" lengthAdjust="spacingAndGlyphs">6</tspan><tspan x="67.02" textLength="10.72" lengthAdjust="spacingAndGlyphs">–</tspan><tspan x="79.6" textLength="15.05" lengthAdjust="spacingAndGlyphs">2</tspan><tspan x="96.58" textLength="15.61" lengthAdjust="spacingAndGlyphs">0</tspan><tspan x="113.43" textLength="15.05" lengthAdjust="spacingAndGlyphs">2</tspan><tspan x="130.76" textLength="14.99" lengthAdjust="spacingAndGlyphs">3</tspan></text><text transform="translate(2694.71 1272) rotate(-90)" font-size="28.8"><tspan x="-1.36" textLength="15.06" lengthAdjust="spacingAndGlyphs">2</tspan><tspan x="15.63" textLength="15.62" lengthAdjust="spacingAndGlyphs">0</tspan><tspan x="32.78" textLength="14.92" lengthAdjust="spacingAndGlyphs">1</tspan><tspan x="49.21" textLength="16.17" lengthAdjust="spacingAndGlyphs">6</tspan><tspan x="67.05" textLength="10.73" lengthAdjust="spacingAndGlyphs">–</tspan><tspan x="79.64" textLength="15.06" lengthAdjust="spacingAndGlyphs">2</tspan><tspan x="96.64" textLength="15.62" lengthAdjust="spacingAndGlyphs">0</tspan><tspan x="113.49" textLength="15.06" lengthAdjust="spacingAndGlyphs">2</tspan><tspan x="130.42" textLength="15.06" lengthAdjust="spacingAndGlyphs">2</tspan></text><text transform="translate(2720.71 1271.12) rotate(-90)" font-size="28.8"><tspan x="-2.03" textLength="14.8" lengthAdjust="spacingAndGlyphs">1</tspan><tspan x="14.2" textLength="16" lengthAdjust="spacingAndGlyphs">9</tspan><tspan x="31.25" textLength="15.66" lengthAdjust="spacingAndGlyphs">8</tspan><tspan x="48.24" textLength="15.16" lengthAdjust="spacingAndGlyphs">7</tspan><tspan x="65.55" textLength="10.64" lengthAdjust="spacingAndGlyphs">–</tspan><tspan x="78.33" textLength="14.8" lengthAdjust="spacingAndGlyphs">1</tspan><tspan x="94.55" textLength="16" lengthAdjust="spacingAndGlyphs">9</tspan><tspan x="111.6" textLength="15.66" lengthAdjust="spacingAndGlyphs">8</tspan><tspan x="128.39" textLength="15.66" lengthAdjust="spacingAndGlyphs">8</tspan></text><text transform="translate(2744.71 1272) rotate(-90)" font-size="28.8"><tspan x="-1.36" textLength="15.03" lengthAdjust="spacingAndGlyphs">2</tspan><tspan x="15.6" textLength="15.59" lengthAdjust="spacingAndGlyphs">0</tspan><tspan x="32.5" textLength="15.59" lengthAdjust="spacingAndGlyphs">0</tspan><tspan x="49.51" textLength="15.25" lengthAdjust="spacingAndGlyphs">7</tspan><tspan x="66.93" textLength="10.71" lengthAdjust="spacingAndGlyphs">–</tspan><tspan x="79.5" textLength="15.03" lengthAdjust="spacingAndGlyphs">2</tspan><tspan x="96.46" textLength="15.59" lengthAdjust="spacingAndGlyphs">0</tspan><tspan x="113.58" textLength="14.89" lengthAdjust="spacingAndGlyphs">1</tspan><tspan x="130.37" textLength="15.25" lengthAdjust="spacingAndGlyphs">7</tspan></text><text transform="translate(2770.71 1271.12) rotate(-90)" font-size="28.8"><tspan x="-2.03" textLength="14.79" lengthAdjust="spacingAndGlyphs">1</tspan><tspan x="14.19" textLength="15.99" lengthAdjust="spacingAndGlyphs">9</tspan><tspan x="30.96" textLength="15.99" lengthAdjust="spacingAndGlyphs">9</tspan><tspan x="48.41" textLength="14.61" lengthAdjust="spacingAndGlyphs">5</tspan><tspan x="65.49" textLength="10.63" lengthAdjust="spacingAndGlyphs">–</tspan><tspan x="78.26" textLength="14.79" lengthAdjust="spacingAndGlyphs">1</tspan><tspan x="94.47" textLength="15.99" lengthAdjust="spacingAndGlyphs">9</tspan><tspan x="111.25" textLength="15.99" lengthAdjust="spacingAndGlyphs">9</tspan><tspan x="128.28" textLength="15.65" lengthAdjust="spacingAndGlyphs">8</tspan></text><text transform="translate(2794.71 1272) rotate(-90)" font-size="28.8"><tspan x="-1.36" textLength="15.03" lengthAdjust="spacingAndGlyphs">2</tspan><tspan x="15.61" textLength="15.6" lengthAdjust="spacingAndGlyphs">0</tspan><tspan x="32.51" textLength="15.6" lengthAdjust="spacingAndGlyphs">0</tspan><tspan x="49.06" textLength="16.11" lengthAdjust="spacingAndGlyphs">9</tspan><tspan x="66.94" textLength="10.71" lengthAdjust="spacingAndGlyphs">–</tspan><tspan x="79.51" textLength="15.03" lengthAdjust="spacingAndGlyphs">2</tspan><tspan x="96.48" textLength="15.6" lengthAdjust="spacingAndGlyphs">0</tspan><tspan x="113.6" textLength="14.89" lengthAdjust="spacingAndGlyphs">1</tspan><tspan x="130.61" textLength="14.72" lengthAdjust="spacingAndGlyphs">5</tspan></text><text transform="translate(2820.71 1271.12) rotate(-90)" font-size="28.8"><tspan x="-2.03" textLength="14.8" lengthAdjust="spacingAndGlyphs">1</tspan><tspan x="14.2" textLength="16" lengthAdjust="spacingAndGlyphs">9</tspan><tspan x="30.99" textLength="16" lengthAdjust="spacingAndGlyphs">9</tspan><tspan x="48.46" textLength="14.88" lengthAdjust="spacingAndGlyphs">3</tspan><tspan x="65.55" textLength="10.64" lengthAdjust="spacingAndGlyphs">–</tspan><tspan x="78.03" textLength="14.94" lengthAdjust="spacingAndGlyphs">2</tspan><tspan x="94.89" textLength="15.5" lengthAdjust="spacingAndGlyphs">0</tspan><tspan x="111.91" textLength="14.8" lengthAdjust="spacingAndGlyphs">1</tspan><tspan x="128.39" textLength="15.66" lengthAdjust="spacingAndGlyphs">8</tspan></text><text transform="translate(2845.71 1272) rotate(-90)" font-size="28.8"><tspan x="-1.36" textLength="15.04" lengthAdjust="spacingAndGlyphs">2</tspan><tspan x="15.61" textLength="15.6" lengthAdjust="spacingAndGlyphs">0</tspan><tspan x="32.51" textLength="15.6" lengthAdjust="spacingAndGlyphs">0</tspan><tspan x="49.14" textLength="16.14" lengthAdjust="spacingAndGlyphs">6</tspan><tspan x="66.96" textLength="10.71" lengthAdjust="spacingAndGlyphs">–</tspan><tspan x="79.53" textLength="15.04" lengthAdjust="spacingAndGlyphs">2</tspan><tspan x="96.5" textLength="15.6" lengthAdjust="spacingAndGlyphs">0</tspan><tspan x="113.63" textLength="14.9" lengthAdjust="spacingAndGlyphs">1</tspan><tspan x="130.65" textLength="14.98" lengthAdjust="spacingAndGlyphs">3</tspan></text><text transform="translate(2870.71 1272) rotate(-90)" font-size="28.8"><tspan x="-1.36" textLength="15.03" lengthAdjust="spacingAndGlyphs">2</tspan><tspan x="15.61" textLength="15.59" lengthAdjust="spacingAndGlyphs">0</tspan><tspan x="32.5" textLength="15.59" lengthAdjust="spacingAndGlyphs">0</tspan><tspan x="49.12" textLength="16.14" lengthAdjust="spacingAndGlyphs">6</tspan><tspan x="66.93" textLength="10.71" lengthAdjust="spacingAndGlyphs">–</tspan><tspan x="79.5" textLength="15.03" lengthAdjust="spacingAndGlyphs">2</tspan><tspan x="96.47" textLength="15.59" lengthAdjust="spacingAndGlyphs">0</tspan><tspan x="113.36" textLength="15.59" lengthAdjust="spacingAndGlyphs">0</tspan><tspan x="130.17" textLength="15.76" lengthAdjust="spacingAndGlyphs">8</tspan></text><text transform="translate(2895.71 1272) rotate(-90)" font-size="28.8"><tspan x="-1.36" textLength="15.03" lengthAdjust="spacingAndGlyphs">2</tspan><tspan x="15.61" textLength="15.6" lengthAdjust="spacingAndGlyphs">0</tspan><tspan x="32.51" textLength="15.6" lengthAdjust="spacingAndGlyphs">0</tspan><tspan x="49.4" textLength="15.6" lengthAdjust="spacingAndGlyphs">4</tspan><tspan x="66.94" textLength="10.71" lengthAdjust="spacingAndGlyphs">–</tspan><tspan x="79.51" textLength="15.03" lengthAdjust="spacingAndGlyphs">2</tspan><tspan x="96.48" textLength="15.6" lengthAdjust="spacingAndGlyphs">0</tspan><tspan x="113.38" textLength="15.6" lengthAdjust="spacingAndGlyphs">0</tspan><tspan x="130.61" textLength="14.72" lengthAdjust="spacingAndGlyphs">5</tspan></text><text transform="translate(2920.71 1191) rotate(-90)" font-size="28.8"><tspan x="-1.36" textLength="15.03" lengthAdjust="spacingAndGlyphs">2</tspan><tspan x="15.61" textLength="15.59" lengthAdjust="spacingAndGlyphs">0</tspan><tspan x="32.73" textLength="14.89" lengthAdjust="spacingAndGlyphs">1</tspan><tspan x="49.74" textLength="14.72" lengthAdjust="spacingAndGlyphs">5</tspan></text><text transform="translate(2945.71 1272) rotate(-90)" font-size="28.8"><tspan x="-1.36" textLength="15.03" lengthAdjust="spacingAndGlyphs">2</tspan><tspan x="15.61" textLength="15.59" lengthAdjust="spacingAndGlyphs">0</tspan><tspan x="32.73" textLength="14.89" lengthAdjust="spacingAndGlyphs">1</tspan><tspan x="49.62" textLength="14.89" lengthAdjust="spacingAndGlyphs">1</tspan><tspan x="66.93" textLength="10.71" lengthAdjust="spacingAndGlyphs">–</tspan><tspan x="79.5" textLength="15.03" lengthAdjust="spacingAndGlyphs">2</tspan><tspan x="96.47" textLength="15.59" lengthAdjust="spacingAndGlyphs">0</tspan><tspan x="113.59" textLength="14.89" lengthAdjust="spacingAndGlyphs">1</tspan><tspan x="130.17" textLength="15.76" lengthAdjust="spacingAndGlyphs">8</tspan></text><text transform="translate(2971.71 1190.12) rotate(-90)" font-size="28.8"><tspan x="-2.01" textLength="14.68" lengthAdjust="spacingAndGlyphs">1</tspan><tspan x="14.08" textLength="15.87" lengthAdjust="spacingAndGlyphs">9</tspan><tspan x="30.98" textLength="15.53" lengthAdjust="spacingAndGlyphs">8</tspan><tspan x="47.45" textLength="15.9" lengthAdjust="spacingAndGlyphs">6</tspan></text><text transform="translate(2995.71 1272) rotate(-90)" font-size="28.8"><tspan x="-1.36" textLength="15.04" lengthAdjust="spacingAndGlyphs">2</tspan><tspan x="15.62" textLength="15.61" lengthAdjust="spacingAndGlyphs">0</tspan><tspan x="32.75" textLength="14.91" lengthAdjust="spacingAndGlyphs">1</tspan><tspan x="49.77" textLength="14.73" lengthAdjust="spacingAndGlyphs">5</tspan><tspan x="66.99" textLength="10.72" lengthAdjust="spacingAndGlyphs">–</tspan><tspan x="79.57" textLength="15.04" lengthAdjust="spacingAndGlyphs">2</tspan><tspan x="96.55" textLength="15.61" lengthAdjust="spacingAndGlyphs">0</tspan><tspan x="113.68" textLength="14.91" lengthAdjust="spacingAndGlyphs">1</tspan><tspan x="130.28" textLength="15.78" lengthAdjust="spacingAndGlyphs">8</tspan></text><text transform="translate(3020.71 1272) rotate(-90)" font-size="28.8"><tspan x="-1.36" textLength="15.03" lengthAdjust="spacingAndGlyphs">2</tspan><tspan x="15.61" textLength="15.59" lengthAdjust="spacingAndGlyphs">0</tspan><tspan x="32.73" textLength="14.89" lengthAdjust="spacingAndGlyphs">1</tspan><tspan x="49.4" textLength="15.59" lengthAdjust="spacingAndGlyphs">0</tspan><tspan x="66.93" textLength="10.71" lengthAdjust="spacingAndGlyphs">–</tspan><tspan x="79.5" textLength="15.03" lengthAdjust="spacingAndGlyphs">2</tspan><tspan x="96.47" textLength="15.59" lengthAdjust="spacingAndGlyphs">0</tspan><tspan x="113.59" textLength="14.89" lengthAdjust="spacingAndGlyphs">1</tspan><tspan x="130.17" textLength="15.76" lengthAdjust="spacingAndGlyphs">8</tspan></text><text transform="translate(3046.71 1271.12) rotate(-90)" font-size="28.8"><tspan x="-2.03" textLength="14.8" lengthAdjust="spacingAndGlyphs">1</tspan><tspan x="14.2" textLength="16" lengthAdjust="spacingAndGlyphs">9</tspan><tspan x="31.25" textLength="15.66" lengthAdjust="spacingAndGlyphs">8</tspan><tspan x="47.85" textLength="16.04" lengthAdjust="spacingAndGlyphs">6</tspan><tspan x="65.55" textLength="10.64" lengthAdjust="spacingAndGlyphs">–</tspan><tspan x="78.33" textLength="14.8" lengthAdjust="spacingAndGlyphs">1</tspan><tspan x="94.55" textLength="16" lengthAdjust="spacingAndGlyphs">9</tspan><tspan x="111.6" textLength="15.66" lengthAdjust="spacingAndGlyphs">8</tspan><tspan x="128.39" textLength="15.66" lengthAdjust="spacingAndGlyphs">8</tspan></text><text transform="translate(3070.71 1272) rotate(-90)" font-size="28.8"><tspan x="-1.36" textLength="15.05" lengthAdjust="spacingAndGlyphs">2</tspan><tspan x="15.62" textLength="15.61" lengthAdjust="spacingAndGlyphs">0</tspan><tspan x="32.54" textLength="15.61" lengthAdjust="spacingAndGlyphs">0</tspan><tspan x="49.12" textLength="16.13" lengthAdjust="spacingAndGlyphs">9</tspan><tspan x="67.02" textLength="10.72" lengthAdjust="spacingAndGlyphs">–</tspan><tspan x="79.6" textLength="15.05" lengthAdjust="spacingAndGlyphs">2</tspan><tspan x="96.58" textLength="15.61" lengthAdjust="spacingAndGlyphs">0</tspan><tspan x="113.43" textLength="15.05" lengthAdjust="spacingAndGlyphs">2</tspan><tspan x="130.76" textLength="14.99" lengthAdjust="spacingAndGlyphs">3</tspan></text><text transform="translate(3095.71 1272) rotate(-90)" font-size="28.8"><tspan x="-1.36" textLength="15.02" lengthAdjust="spacingAndGlyphs">2</tspan><tspan x="15.6" textLength="15.59" lengthAdjust="spacingAndGlyphs">0</tspan><tspan x="32.71" textLength="14.89" lengthAdjust="spacingAndGlyphs">1</tspan><tspan x="49.49" textLength="15.25" lengthAdjust="spacingAndGlyphs">7</tspan><tspan x="66.9" textLength="10.71" lengthAdjust="spacingAndGlyphs">–</tspan><tspan x="79.47" textLength="15.02" lengthAdjust="spacingAndGlyphs">2</tspan><tspan x="96.42" textLength="15.59" lengthAdjust="spacingAndGlyphs">0</tspan><tspan x="113.54" textLength="14.89" lengthAdjust="spacingAndGlyphs">1</tspan><tspan x="129.86" textLength="16.1" lengthAdjust="spacingAndGlyphs">9</tspan></text><text transform="translate(3121.71 1271.12) rotate(-90)" font-size="28.8"><tspan x="-2.03" textLength="14.79" lengthAdjust="spacingAndGlyphs">1</tspan><tspan x="14.2" textLength="16" lengthAdjust="spacingAndGlyphs">9</tspan><tspan x="31.23" textLength="15.66" lengthAdjust="spacingAndGlyphs">8</tspan><tspan x="48.01" textLength="15.66" lengthAdjust="spacingAndGlyphs">8</tspan><tspan x="65.52" textLength="10.64" lengthAdjust="spacingAndGlyphs">–</tspan><tspan x="78.29" textLength="14.79" lengthAdjust="spacingAndGlyphs">1</tspan><tspan x="94.51" textLength="16" lengthAdjust="spacingAndGlyphs">9</tspan><tspan x="111.3" textLength="16" lengthAdjust="spacingAndGlyphs">9</tspan><tspan x="128.08" textLength="16" lengthAdjust="spacingAndGlyphs">9</tspan></text><text transform="translate(3146.71 1272) rotate(-90)" font-size="28.8"><tspan x="-1.36" textLength="15.03" lengthAdjust="spacingAndGlyphs">2</tspan><tspan x="15.61" textLength="15.6" lengthAdjust="spacingAndGlyphs">0</tspan><tspan x="32.74" textLength="14.9" lengthAdjust="spacingAndGlyphs">1</tspan><tspan x="49.41" textLength="15.6" lengthAdjust="spacingAndGlyphs">4</tspan><tspan x="66.95" textLength="10.71" lengthAdjust="spacingAndGlyphs">–</tspan><tspan x="79.53" textLength="15.03" lengthAdjust="spacingAndGlyphs">2</tspan><tspan x="96.5" textLength="15.6" lengthAdjust="spacingAndGlyphs">0</tspan><tspan x="113.33" textLength="15.03" lengthAdjust="spacingAndGlyphs">2</tspan><tspan x="130.52" textLength="14.9" lengthAdjust="spacingAndGlyphs">1</tspan></text><text transform="translate(3171.71 1190.12) rotate(-90)" font-size="28.8"><tspan x="-2.01" textLength="14.67" lengthAdjust="spacingAndGlyphs">1</tspan><tspan x="14.08" textLength="15.87" lengthAdjust="spacingAndGlyphs">9</tspan><tspan x="30.98" textLength="15.53" lengthAdjust="spacingAndGlyphs">8</tspan><tspan x="47.82" textLength="15.03" lengthAdjust="spacingAndGlyphs">7</tspan></text><text transform="translate(3196.71 1192) rotate(-90)" font-size="28.8"><tspan x="-1.36" textLength="15.09" lengthAdjust="spacingAndGlyphs">2</tspan><tspan x="15.67" textLength="15.65" lengthAdjust="spacingAndGlyphs">0</tspan><tspan x="32.56" textLength="15.09" lengthAdjust="spacingAndGlyphs">2</tspan><tspan x="49.52" textLength="15.09" lengthAdjust="spacingAndGlyphs">2</tspan></text><text transform="translate(3221.71 1272) rotate(-90)" font-size="28.8"><tspan x="-1.36" textLength="15.06" lengthAdjust="spacingAndGlyphs">2</tspan><tspan x="15.63" textLength="15.62" lengthAdjust="spacingAndGlyphs">0</tspan><tspan x="32.78" textLength="14.92" lengthAdjust="spacingAndGlyphs">1</tspan><tspan x="49.48" textLength="15.62" lengthAdjust="spacingAndGlyphs">0</tspan><tspan x="67.05" textLength="10.73" lengthAdjust="spacingAndGlyphs">–</tspan><tspan x="79.64" textLength="15.06" lengthAdjust="spacingAndGlyphs">2</tspan><tspan x="96.64" textLength="15.62" lengthAdjust="spacingAndGlyphs">0</tspan><tspan x="113.49" textLength="15.06" lengthAdjust="spacingAndGlyphs">2</tspan><tspan x="130.42" textLength="15.06" lengthAdjust="spacingAndGlyphs">2</tspan></text><text transform="translate(3247.71 1271.12) rotate(-90)" font-size="28.8"><tspan x="-2.03" textLength="14.8" lengthAdjust="spacingAndGlyphs">1</tspan><tspan x="14.21" textLength="16.01" lengthAdjust="spacingAndGlyphs">9</tspan><tspan x="31.26" textLength="15.67" lengthAdjust="spacingAndGlyphs">8</tspan><tspan x="47.8" textLength="16.01" lengthAdjust="spacingAndGlyphs">9</tspan><tspan x="65.57" textLength="10.65" lengthAdjust="spacingAndGlyphs">–</tspan><tspan x="78.06" textLength="14.94" lengthAdjust="spacingAndGlyphs">2</tspan><tspan x="94.93" textLength="15.5" lengthAdjust="spacingAndGlyphs">0</tspan><tspan x="111.95" textLength="14.8" lengthAdjust="spacingAndGlyphs">1</tspan><tspan x="128.86" textLength="14.89" lengthAdjust="spacingAndGlyphs">3</tspan></text><text transform="translate(3272.71 1271.12) rotate(-90)" font-size="28.8"><tspan x="-2.02" textLength="14.78" lengthAdjust="spacingAndGlyphs">1</tspan><tspan x="14.18" textLength="15.98" lengthAdjust="spacingAndGlyphs">9</tspan><tspan x="30.94" textLength="15.98" lengthAdjust="spacingAndGlyphs">9</tspan><tspan x="48.04" textLength="15.47" lengthAdjust="spacingAndGlyphs">0</tspan><tspan x="65.44" textLength="10.63" lengthAdjust="spacingAndGlyphs">–</tspan><tspan x="78.2" textLength="14.78" lengthAdjust="spacingAndGlyphs">1</tspan><tspan x="94.4" textLength="15.98" lengthAdjust="spacingAndGlyphs">9</tspan><tspan x="111.16" textLength="15.98" lengthAdjust="spacingAndGlyphs">9</tspan><tspan x="128.6" textLength="14.6" lengthAdjust="spacingAndGlyphs">5</tspan></text><text transform="translate(3297.71 1271.12) rotate(-90)" font-size="28.8"><tspan x="-2.03" textLength="14.8" lengthAdjust="spacingAndGlyphs">1</tspan><tspan x="14.2" textLength="16" lengthAdjust="spacingAndGlyphs">9</tspan><tspan x="31.24" textLength="15.66" lengthAdjust="spacingAndGlyphs">8</tspan><tspan x="48.11" textLength="15.49" lengthAdjust="spacingAndGlyphs">0</tspan><tspan x="65.53" textLength="10.64" lengthAdjust="spacingAndGlyphs">–</tspan><tspan x="78.31" textLength="14.8" lengthAdjust="spacingAndGlyphs">1</tspan><tspan x="94.53" textLength="16" lengthAdjust="spacingAndGlyphs">9</tspan><tspan x="111.57" textLength="15.66" lengthAdjust="spacingAndGlyphs">8</tspan><tspan x="128.44" textLength="15.49" lengthAdjust="spacingAndGlyphs">4</tspan></text><text transform="translate(3321.71 1272) rotate(-90)" font-size="28.8"><tspan x="-1.36" textLength="15.05" lengthAdjust="spacingAndGlyphs">2</tspan><tspan x="15.62" textLength="15.61" lengthAdjust="spacingAndGlyphs">0</tspan><tspan x="32.76" textLength="14.91" lengthAdjust="spacingAndGlyphs">1</tspan><tspan x="49.37" textLength="15.78" lengthAdjust="spacingAndGlyphs">8</tspan><tspan x="67.01" textLength="10.72" lengthAdjust="spacingAndGlyphs">–</tspan><tspan x="79.6" textLength="15.05" lengthAdjust="spacingAndGlyphs">2</tspan><tspan x="96.58" textLength="15.61" lengthAdjust="spacingAndGlyphs">0</tspan><tspan x="113.43" textLength="15.05" lengthAdjust="spacingAndGlyphs">2</tspan><tspan x="130.64" textLength="14.91" lengthAdjust="spacingAndGlyphs">1</tspan></text><text transform="translate(3346.71 1205) rotate(-90)" font-size="28.8"><tspan x="-1.36" textLength="15.05" lengthAdjust="spacingAndGlyphs">2</tspan><tspan x="15.63" textLength="15.61" lengthAdjust="spacingAndGlyphs">0</tspan><tspan x="32.55" textLength="15.61" lengthAdjust="spacingAndGlyphs">0</tspan><tspan x="49.81" textLength="15" lengthAdjust="spacingAndGlyphs">3</tspan><tspan x="67.03" textLength="10.73" lengthAdjust="spacingAndGlyphs">–</tspan></text><text transform="translate(3371.71 1272) rotate(-90)" font-size="28.8"><tspan x="-1.36" textLength="15.04" lengthAdjust="spacingAndGlyphs">2</tspan><tspan x="15.61" textLength="15.6" lengthAdjust="spacingAndGlyphs">0</tspan><tspan x="32.74" textLength="14.9" lengthAdjust="spacingAndGlyphs">1</tspan><tspan x="49.09" textLength="16.12" lengthAdjust="spacingAndGlyphs">9</tspan><tspan x="66.97" textLength="10.72" lengthAdjust="spacingAndGlyphs">–</tspan><tspan x="79.55" textLength="15.04" lengthAdjust="spacingAndGlyphs">2</tspan><tspan x="96.52" textLength="15.6" lengthAdjust="spacingAndGlyphs">0</tspan><tspan x="113.36" textLength="15.04" lengthAdjust="spacingAndGlyphs">2</tspan><tspan x="130.33" textLength="15.6" lengthAdjust="spacingAndGlyphs">0</tspan></text><text transform="translate(3396.71 1272) rotate(-90)" font-size="28.8"><tspan x="-1.36" textLength="15.04" lengthAdjust="spacingAndGlyphs">2</tspan><tspan x="15.61" textLength="15.6" lengthAdjust="spacingAndGlyphs">0</tspan><tspan x="32.74" textLength="14.9" lengthAdjust="spacingAndGlyphs">1</tspan><tspan x="49.36" textLength="15.04" lengthAdjust="spacingAndGlyphs">2</tspan><tspan x="66.97" textLength="10.72" lengthAdjust="spacingAndGlyphs">–</tspan><tspan x="79.55" textLength="15.04" lengthAdjust="spacingAndGlyphs">2</tspan><tspan x="96.52" textLength="15.6" lengthAdjust="spacingAndGlyphs">0</tspan><tspan x="113.65" textLength="14.9" lengthAdjust="spacingAndGlyphs">1</tspan><tspan x="130.33" textLength="15.6" lengthAdjust="spacingAndGlyphs">4</tspan></text><text transform="translate(3421.71 1272) rotate(-90)" font-size="28.8"><tspan x="-1.36" textLength="15.03" lengthAdjust="spacingAndGlyphs">2</tspan><tspan x="15.6" textLength="15.59" lengthAdjust="spacingAndGlyphs">0</tspan><tspan x="32.72" textLength="14.89" lengthAdjust="spacingAndGlyphs">1</tspan><tspan x="49.38" textLength="15.59" lengthAdjust="spacingAndGlyphs">0</tspan><tspan x="66.92" textLength="10.71" lengthAdjust="spacingAndGlyphs">–</tspan><tspan x="79.48" textLength="15.03" lengthAdjust="spacingAndGlyphs">2</tspan><tspan x="96.44" textLength="15.59" lengthAdjust="spacingAndGlyphs">0</tspan><tspan x="113.56" textLength="14.89" lengthAdjust="spacingAndGlyphs">1</tspan><tspan x="130.22" textLength="15.59" lengthAdjust="spacingAndGlyphs">4</tspan></text><text transform="translate(3447.71 1271.12) rotate(-90)" font-size="28.8"><tspan x="-2.02" textLength="14.78" lengthAdjust="spacingAndGlyphs">1</tspan><tspan x="14.18" textLength="15.98" lengthAdjust="spacingAndGlyphs">9</tspan><tspan x="31.01" textLength="16.01" lengthAdjust="spacingAndGlyphs">6</tspan><tspan x="48.04" textLength="15.47" lengthAdjust="spacingAndGlyphs">0</tspan><tspan x="65.44" textLength="10.63" lengthAdjust="spacingAndGlyphs">–</tspan><tspan x="78.2" textLength="14.78" lengthAdjust="spacingAndGlyphs">1</tspan><tspan x="94.4" textLength="15.98" lengthAdjust="spacingAndGlyphs">9</tspan><tspan x="111.62" textLength="15.13" lengthAdjust="spacingAndGlyphs">7</tspan><tspan x="128.6" textLength="14.6" lengthAdjust="spacingAndGlyphs">5</tspan></text><text transform="translate(3472.71 1205) rotate(-90)" font-size="28.8"><tspan x="-1.36" textLength="15.05" lengthAdjust="spacingAndGlyphs">2</tspan><tspan x="15.63" textLength="15.61" lengthAdjust="spacingAndGlyphs">0</tspan><tspan x="32.77" textLength="14.91" lengthAdjust="spacingAndGlyphs">1</tspan><tspan x="49.4" textLength="15.05" lengthAdjust="spacingAndGlyphs">2</tspan><tspan x="67.03" textLength="10.73" lengthAdjust="spacingAndGlyphs">–</tspan></text><text transform="translate(3497.71 1271.12) rotate(-90)" font-size="28.8"><tspan x="-2.03" textLength="14.8" lengthAdjust="spacingAndGlyphs">1</tspan><tspan x="14.21" textLength="16.01" lengthAdjust="spacingAndGlyphs">9</tspan><tspan x="31.46" textLength="15.16" lengthAdjust="spacingAndGlyphs">7</tspan><tspan x="48.07" textLength="14.94" lengthAdjust="spacingAndGlyphs">2</tspan><tspan x="65.57" textLength="10.65" lengthAdjust="spacingAndGlyphs">–</tspan><tspan x="78.35" textLength="14.8" lengthAdjust="spacingAndGlyphs">1</tspan><tspan x="94.59" textLength="16.01" lengthAdjust="spacingAndGlyphs">9</tspan><tspan x="111.64" textLength="15.67" lengthAdjust="spacingAndGlyphs">8</tspan><tspan x="128.86" textLength="14.89" lengthAdjust="spacingAndGlyphs">3</tspan></text><text transform="translate(3522.71 1272) rotate(-90)" font-size="28.8"><tspan x="-1.36" textLength="15.03" lengthAdjust="spacingAndGlyphs">2</tspan><tspan x="15.6" textLength="15.59" lengthAdjust="spacingAndGlyphs">0</tspan><tspan x="32.49" textLength="15.59" lengthAdjust="spacingAndGlyphs">0</tspan><tspan x="49.61" textLength="14.89" lengthAdjust="spacingAndGlyphs">1</tspan><tspan x="66.92" textLength="10.71" lengthAdjust="spacingAndGlyphs">–</tspan><tspan x="79.48" textLength="15.03" lengthAdjust="spacingAndGlyphs">2</tspan><tspan x="96.44" textLength="15.59" lengthAdjust="spacingAndGlyphs">0</tspan><tspan x="113.33" textLength="15.59" lengthAdjust="spacingAndGlyphs">0</tspan><tspan x="130.22" textLength="15.59" lengthAdjust="spacingAndGlyphs">4</tspan></text><text transform="translate(3548.71 1271.12) rotate(-90)" font-size="28.8"><tspan x="-2.02" textLength="14.78" lengthAdjust="spacingAndGlyphs">1</tspan><tspan x="14.18" textLength="15.98" lengthAdjust="spacingAndGlyphs">9</tspan><tspan x="30.95" textLength="15.98" lengthAdjust="spacingAndGlyphs">9</tspan><tspan x="48.4" textLength="14.86" lengthAdjust="spacingAndGlyphs">3</tspan><tspan x="65.46" textLength="10.63" lengthAdjust="spacingAndGlyphs">–</tspan><tspan x="78.22" textLength="14.78" lengthAdjust="spacingAndGlyphs">1</tspan><tspan x="94.43" textLength="15.98" lengthAdjust="spacingAndGlyphs">9</tspan><tspan x="111.2" textLength="15.98" lengthAdjust="spacingAndGlyphs">9</tspan><tspan x="127.97" textLength="15.98" lengthAdjust="spacingAndGlyphs">9</tspan></text><text transform="translate(3572.71 1272) rotate(-90)" font-size="28.8"><tspan x="-1.36" textLength="15.04" lengthAdjust="spacingAndGlyphs">2</tspan><tspan x="15.62" textLength="15.61" lengthAdjust="spacingAndGlyphs">0</tspan><tspan x="32.53" textLength="15.61" lengthAdjust="spacingAndGlyphs">0</tspan><tspan x="49.78" textLength="14.99" lengthAdjust="spacingAndGlyphs">3</tspan><tspan x="66.99" textLength="10.72" lengthAdjust="spacingAndGlyphs">–</tspan><tspan x="79.57" textLength="15.04" lengthAdjust="spacingAndGlyphs">2</tspan><tspan x="96.55" textLength="15.61" lengthAdjust="spacingAndGlyphs">0</tspan><tspan x="113.68" textLength="14.91" lengthAdjust="spacingAndGlyphs">1</tspan><tspan x="130.28" textLength="15.78" lengthAdjust="spacingAndGlyphs">8</tspan></text><text transform="translate(3598.71 1271.12) rotate(-90)" font-size="28.8"><tspan x="-2.03" textLength="14.79" lengthAdjust="spacingAndGlyphs">1</tspan><tspan x="14.2" textLength="16" lengthAdjust="spacingAndGlyphs">9</tspan><tspan x="31.23" textLength="15.66" lengthAdjust="spacingAndGlyphs">8</tspan><tspan x="47.83" textLength="16.03" lengthAdjust="spacingAndGlyphs">6</tspan><tspan x="65.52" textLength="10.64" lengthAdjust="spacingAndGlyphs">–</tspan><tspan x="78.29" textLength="14.79" lengthAdjust="spacingAndGlyphs">1</tspan><tspan x="94.51" textLength="16" lengthAdjust="spacingAndGlyphs">9</tspan><tspan x="111.55" textLength="15.66" lengthAdjust="spacingAndGlyphs">8</tspan><tspan x="128.08" textLength="16" lengthAdjust="spacingAndGlyphs">9</tspan></text><text transform="translate(3622.71 1272) rotate(-90)" font-size="28.8"><tspan x="-1.36" textLength="15.02" lengthAdjust="spacingAndGlyphs">2</tspan><tspan x="15.6" textLength="15.59" lengthAdjust="spacingAndGlyphs">0</tspan><tspan x="32.49" textLength="15.59" lengthAdjust="spacingAndGlyphs">0</tspan><tspan x="49.49" textLength="15.25" lengthAdjust="spacingAndGlyphs">7</tspan><tspan x="66.9" textLength="10.71" lengthAdjust="spacingAndGlyphs">–</tspan><tspan x="79.47" textLength="15.02" lengthAdjust="spacingAndGlyphs">2</tspan><tspan x="96.42" textLength="15.59" lengthAdjust="spacingAndGlyphs">0</tspan><tspan x="113.31" textLength="15.59" lengthAdjust="spacingAndGlyphs">0</tspan><tspan x="129.86" textLength="16.1" lengthAdjust="spacingAndGlyphs">9</tspan></text><text transform="translate(3648.71 1271.12) rotate(-90)" font-size="28.8"><tspan x="-2.03" textLength="14.8" lengthAdjust="spacingAndGlyphs">1</tspan><tspan x="14.21" textLength="16.01" lengthAdjust="spacingAndGlyphs">9</tspan><tspan x="31" textLength="16.01" lengthAdjust="spacingAndGlyphs">9</tspan><tspan x="48.47" textLength="14.63" lengthAdjust="spacingAndGlyphs">5</tspan><tspan x="65.57" textLength="10.65" lengthAdjust="spacingAndGlyphs">–</tspan><tspan x="78.06" textLength="14.94" lengthAdjust="spacingAndGlyphs">2</tspan><tspan x="94.93" textLength="15.5" lengthAdjust="spacingAndGlyphs">0</tspan><tspan x="111.72" textLength="15.5" lengthAdjust="spacingAndGlyphs">0</tspan><tspan x="128.86" textLength="14.89" lengthAdjust="spacingAndGlyphs">3</tspan></text><text transform="translate(3672.71 1205) rotate(-90)" font-size="28.8"><tspan x="-1.36" textLength="15.03" lengthAdjust="spacingAndGlyphs">2</tspan><tspan x="15.6" textLength="15.59" lengthAdjust="spacingAndGlyphs">0</tspan><tspan x="32.72" textLength="14.89" lengthAdjust="spacingAndGlyphs">1</tspan><tspan x="49.5" textLength="15.25" lengthAdjust="spacingAndGlyphs">7</tspan><tspan x="66.92" textLength="10.71" lengthAdjust="spacingAndGlyphs">–</tspan></text><text transform="translate(3697.71 1272) rotate(-90)" font-size="28.8"><tspan x="-1.36" textLength="15.03" lengthAdjust="spacingAndGlyphs">2</tspan><tspan x="15.6" textLength="15.59" lengthAdjust="spacingAndGlyphs">0</tspan><tspan x="32.49" textLength="15.59" lengthAdjust="spacingAndGlyphs">0</tspan><tspan x="49.38" textLength="15.59" lengthAdjust="spacingAndGlyphs">0</tspan><tspan x="66.92" textLength="10.71" lengthAdjust="spacingAndGlyphs">–</tspan><tspan x="79.48" textLength="15.03" lengthAdjust="spacingAndGlyphs">2</tspan><tspan x="96.44" textLength="15.59" lengthAdjust="spacingAndGlyphs">0</tspan><tspan x="113.33" textLength="15.59" lengthAdjust="spacingAndGlyphs">0</tspan><tspan x="130.22" textLength="15.59" lengthAdjust="spacingAndGlyphs">4</tspan></text><text transform="translate(3722.71 1191) rotate(-90)" font-size="28.8"><tspan x="-1.36" textLength="15.04" lengthAdjust="spacingAndGlyphs">2</tspan><tspan x="15.61" textLength="15.6" lengthAdjust="spacingAndGlyphs">0</tspan><tspan x="32.52" textLength="15.6" lengthAdjust="spacingAndGlyphs">0</tspan><tspan x="49.77" textLength="14.98" lengthAdjust="spacingAndGlyphs">3</tspan></text><text transform="translate(3748.71 1271.12) rotate(-90)" font-size="28.8"><tspan x="-2.02" textLength="14.78" lengthAdjust="spacingAndGlyphs">1</tspan><tspan x="14.18" textLength="15.98" lengthAdjust="spacingAndGlyphs">9</tspan><tspan x="30.95" textLength="15.98" lengthAdjust="spacingAndGlyphs">9</tspan><tspan x="47.71" textLength="15.98" lengthAdjust="spacingAndGlyphs">9</tspan><tspan x="65.45" textLength="10.63" lengthAdjust="spacingAndGlyphs">–</tspan><tspan x="77.92" textLength="14.91" lengthAdjust="spacingAndGlyphs">2</tspan><tspan x="94.76" textLength="15.47" lengthAdjust="spacingAndGlyphs">0</tspan><tspan x="111.52" textLength="15.47" lengthAdjust="spacingAndGlyphs">0</tspan><tspan x="128.51" textLength="14.78" lengthAdjust="spacingAndGlyphs">1</tspan></text><text transform="translate(3773.71 1271.12) rotate(-90)" font-size="28.8"><tspan x="-2.03" textLength="14.8" lengthAdjust="spacingAndGlyphs">1</tspan><tspan x="14.2" textLength="16" lengthAdjust="spacingAndGlyphs">9</tspan><tspan x="31.24" textLength="15.66" lengthAdjust="spacingAndGlyphs">8</tspan><tspan x="47.84" textLength="16.04" lengthAdjust="spacingAndGlyphs">6</tspan><tspan x="65.54" textLength="10.64" lengthAdjust="spacingAndGlyphs">–</tspan><tspan x="78.32" textLength="14.8" lengthAdjust="spacingAndGlyphs">1</tspan><tspan x="94.55" textLength="16" lengthAdjust="spacingAndGlyphs">9</tspan><tspan x="111.59" textLength="15.66" lengthAdjust="spacingAndGlyphs">8</tspan><tspan x="128.58" textLength="15.16" lengthAdjust="spacingAndGlyphs">7</tspan></text><text transform="translate(3798.71 1272) rotate(-90)" font-size="28.8"><tspan x="-1.36" textLength="15.03" lengthAdjust="spacingAndGlyphs">2</tspan><tspan x="15.6" textLength="15.59" lengthAdjust="spacingAndGlyphs">0</tspan><tspan x="32.49" textLength="15.59" lengthAdjust="spacingAndGlyphs">0</tspan><tspan x="49.38" textLength="15.59" lengthAdjust="spacingAndGlyphs">4</tspan><tspan x="66.91" textLength="10.71" lengthAdjust="spacingAndGlyphs">–</tspan><tspan x="79.48" textLength="15.03" lengthAdjust="spacingAndGlyphs">2</tspan><tspan x="96.44" textLength="15.59" lengthAdjust="spacingAndGlyphs">0</tspan><tspan x="113.55" textLength="14.89" lengthAdjust="spacingAndGlyphs">1</tspan><tspan x="130.22" textLength="15.59" lengthAdjust="spacingAndGlyphs">0</tspan></text><text transform="translate(3824.71 1271.12) rotate(-90)" font-size="28.8"><tspan x="-2.03" textLength="14.8" lengthAdjust="spacingAndGlyphs">1</tspan><tspan x="14.2" textLength="16.01" lengthAdjust="spacingAndGlyphs">9</tspan><tspan x="30.99" textLength="16.01" lengthAdjust="spacingAndGlyphs">9</tspan><tspan x="48.24" textLength="15.16" lengthAdjust="spacingAndGlyphs">7</tspan><tspan x="65.55" textLength="10.64" lengthAdjust="spacingAndGlyphs">–</tspan><tspan x="78.04" textLength="14.94" lengthAdjust="spacingAndGlyphs">2</tspan><tspan x="94.9" textLength="15.5" lengthAdjust="spacingAndGlyphs">0</tspan><tspan x="111.69" textLength="15.5" lengthAdjust="spacingAndGlyphs">0</tspan><tspan x="128.41" textLength="14.94" lengthAdjust="spacingAndGlyphs">2</tspan></text><text transform="translate(3848.71 1272) rotate(-90)" font-size="28.8"><tspan x="-1.36" textLength="15.02" lengthAdjust="spacingAndGlyphs">2</tspan><tspan x="15.6" textLength="15.58" lengthAdjust="spacingAndGlyphs">0</tspan><tspan x="32.48" textLength="15.58" lengthAdjust="spacingAndGlyphs">0</tspan><tspan x="49.03" textLength="16.1" lengthAdjust="spacingAndGlyphs">9</tspan><tspan x="66.9" textLength="10.7" lengthAdjust="spacingAndGlyphs">–</tspan><tspan x="79.46" textLength="15.02" lengthAdjust="spacingAndGlyphs">2</tspan><tspan x="96.41" textLength="15.58" lengthAdjust="spacingAndGlyphs">0</tspan><tspan x="113.52" textLength="14.88" lengthAdjust="spacingAndGlyphs">1</tspan><tspan x="130.41" textLength="14.88" lengthAdjust="spacingAndGlyphs">1</tspan></text><text transform="translate(3873.71 1273) rotate(-90)" font-size="28.8"><tspan x="-1.36" textLength="15.06" lengthAdjust="spacingAndGlyphs">2</tspan><tspan x="15.64" textLength="15.63" lengthAdjust="spacingAndGlyphs">0</tspan><tspan x="32.79" textLength="14.92" lengthAdjust="spacingAndGlyphs">1</tspan><tspan x="49.43" textLength="15.06" lengthAdjust="spacingAndGlyphs">2</tspan><tspan x="67.07" textLength="10.73" lengthAdjust="spacingAndGlyphs">–</tspan><tspan x="79.67" textLength="15.06" lengthAdjust="spacingAndGlyphs">2</tspan><tspan x="96.67" textLength="15.63" lengthAdjust="spacingAndGlyphs">0</tspan><tspan x="113.53" textLength="15.06" lengthAdjust="spacingAndGlyphs">2</tspan><tspan x="130.87" textLength="15.01" lengthAdjust="spacingAndGlyphs">3</tspan></text><text transform="translate(3899.71 1271.12) rotate(-90)" font-size="28.8"><tspan x="-2.03" textLength="14.8" lengthAdjust="spacingAndGlyphs">1</tspan><tspan x="14.2" textLength="16" lengthAdjust="spacingAndGlyphs">9</tspan><tspan x="30.99" textLength="16" lengthAdjust="spacingAndGlyphs">9</tspan><tspan x="48.03" textLength="15.66" lengthAdjust="spacingAndGlyphs">8</tspan><tspan x="65.54" textLength="10.64" lengthAdjust="spacingAndGlyphs">–</tspan><tspan x="78.03" textLength="14.93" lengthAdjust="spacingAndGlyphs">2</tspan><tspan x="94.89" textLength="15.49" lengthAdjust="spacingAndGlyphs">0</tspan><tspan x="111.67" textLength="15.49" lengthAdjust="spacingAndGlyphs">0</tspan><tspan x="128.58" textLength="15.16" lengthAdjust="spacingAndGlyphs">7</tspan></text><text transform="translate(3923.71 1272) rotate(-90)" font-size="28.8"><tspan x="-1.36" textLength="15.04" lengthAdjust="spacingAndGlyphs">2</tspan><tspan x="15.61" textLength="15.6" lengthAdjust="spacingAndGlyphs">0</tspan><tspan x="32.51" textLength="15.6" lengthAdjust="spacingAndGlyphs">0</tspan><tspan x="49.64" textLength="14.9" lengthAdjust="spacingAndGlyphs">1</tspan><tspan x="66.96" textLength="10.71" lengthAdjust="spacingAndGlyphs">–</tspan><tspan x="79.53" textLength="15.04" lengthAdjust="spacingAndGlyphs">2</tspan><tspan x="96.5" textLength="15.6" lengthAdjust="spacingAndGlyphs">0</tspan><tspan x="113.4" textLength="15.6" lengthAdjust="spacingAndGlyphs">0</tspan><tspan x="130.65" textLength="14.98" lengthAdjust="spacingAndGlyphs">3</tspan></text><text transform="translate(3948.71 1272) rotate(-90)" font-size="28.8"><tspan x="-1.36" textLength="15.03" lengthAdjust="spacingAndGlyphs">2</tspan><tspan x="15.6" textLength="15.59" lengthAdjust="spacingAndGlyphs">0</tspan><tspan x="32.5" textLength="15.59" lengthAdjust="spacingAndGlyphs">0</tspan><tspan x="49.62" textLength="14.89" lengthAdjust="spacingAndGlyphs">1</tspan><tspan x="66.93" textLength="10.71" lengthAdjust="spacingAndGlyphs">–</tspan><tspan x="79.5" textLength="15.03" lengthAdjust="spacingAndGlyphs">2</tspan><tspan x="96.46" textLength="15.59" lengthAdjust="spacingAndGlyphs">0</tspan><tspan x="113.58" textLength="14.89" lengthAdjust="spacingAndGlyphs">1</tspan><tspan x="130.37" textLength="15.25" lengthAdjust="spacingAndGlyphs">7</tspan></text><text transform="translate(3973.71 1272) rotate(-90)" font-size="28.8"><tspan x="-1.36" textLength="15.04" lengthAdjust="spacingAndGlyphs">2</tspan><tspan x="15.61" textLength="15.6" lengthAdjust="spacingAndGlyphs">0</tspan><tspan x="32.74" textLength="14.9" lengthAdjust="spacingAndGlyphs">1</tspan><tspan x="49.41" textLength="15.6" lengthAdjust="spacingAndGlyphs">0</tspan><tspan x="66.96" textLength="10.71" lengthAdjust="spacingAndGlyphs">–</tspan><tspan x="79.53" textLength="15.04" lengthAdjust="spacingAndGlyphs">2</tspan><tspan x="96.5" textLength="15.6" lengthAdjust="spacingAndGlyphs">0</tspan><tspan x="113.63" textLength="14.9" lengthAdjust="spacingAndGlyphs">1</tspan><tspan x="130.65" textLength="14.98" lengthAdjust="spacingAndGlyphs">3</tspan></text><text transform="translate(3998.71 1272) rotate(-90)" font-size="28.8"><tspan x="-1.36" textLength="15.03" lengthAdjust="spacingAndGlyphs">2</tspan><tspan x="15.61" textLength="15.6" lengthAdjust="spacingAndGlyphs">0</tspan><tspan x="32.74" textLength="14.9" lengthAdjust="spacingAndGlyphs">1</tspan><tspan x="49.64" textLength="14.9" lengthAdjust="spacingAndGlyphs">1</tspan><tspan x="66.95" textLength="10.71" lengthAdjust="spacingAndGlyphs">–</tspan><tspan x="79.53" textLength="15.03" lengthAdjust="spacingAndGlyphs">2</tspan><tspan x="96.5" textLength="15.6" lengthAdjust="spacingAndGlyphs">0</tspan><tspan x="113.33" textLength="15.03" lengthAdjust="spacingAndGlyphs">2</tspan><tspan x="130.52" textLength="14.9" lengthAdjust="spacingAndGlyphs">1</tspan></text><text transform="translate(4023.71 1272) rotate(-90)" font-size="28.8"><tspan x="-1.36" textLength="15.06" lengthAdjust="spacingAndGlyphs">2</tspan><tspan x="15.63" textLength="15.62" lengthAdjust="spacingAndGlyphs">0</tspan><tspan x="32.78" textLength="14.92" lengthAdjust="spacingAndGlyphs">1</tspan><tspan x="49.48" textLength="15.62" lengthAdjust="spacingAndGlyphs">4</tspan><tspan x="67.05" textLength="10.73" lengthAdjust="spacingAndGlyphs">–</tspan><tspan x="79.64" textLength="15.06" lengthAdjust="spacingAndGlyphs">2</tspan><tspan x="96.64" textLength="15.62" lengthAdjust="spacingAndGlyphs">0</tspan><tspan x="113.49" textLength="15.06" lengthAdjust="spacingAndGlyphs">2</tspan><tspan x="130.42" textLength="15.06" lengthAdjust="spacingAndGlyphs">2</tspan></text><text transform="translate(4048.71 1272) rotate(-90)" font-size="28.8"><tspan x="-1.36" textLength="15.04" lengthAdjust="spacingAndGlyphs">2</tspan><tspan x="15.61" textLength="15.6" lengthAdjust="spacingAndGlyphs">0</tspan><tspan x="32.52" textLength="15.6" lengthAdjust="spacingAndGlyphs">0</tspan><tspan x="49.34" textLength="15.77" lengthAdjust="spacingAndGlyphs">8</tspan><tspan x="66.97" textLength="10.72" lengthAdjust="spacingAndGlyphs">–</tspan><tspan x="79.55" textLength="15.04" lengthAdjust="spacingAndGlyphs">2</tspan><tspan x="96.52" textLength="15.6" lengthAdjust="spacingAndGlyphs">0</tspan><tspan x="113.65" textLength="14.9" lengthAdjust="spacingAndGlyphs">1</tspan><tspan x="130.33" textLength="15.6" lengthAdjust="spacingAndGlyphs">4</tspan></text><text transform="translate(4074.71 1271.12) rotate(-90)" font-size="28.8"><tspan x="-2.03" textLength="14.79" lengthAdjust="spacingAndGlyphs">1</tspan><tspan x="14.19" textLength="15.99" lengthAdjust="spacingAndGlyphs">9</tspan><tspan x="30.96" textLength="15.99" lengthAdjust="spacingAndGlyphs">9</tspan><tspan x="48.41" textLength="14.61" lengthAdjust="spacingAndGlyphs">5</tspan><tspan x="65.49" textLength="10.63" lengthAdjust="spacingAndGlyphs">–</tspan><tspan x="78.26" textLength="14.79" lengthAdjust="spacingAndGlyphs">1</tspan><tspan x="94.47" textLength="15.99" lengthAdjust="spacingAndGlyphs">9</tspan><tspan x="111.25" textLength="15.99" lengthAdjust="spacingAndGlyphs">9</tspan><tspan x="128.09" textLength="16.02" lengthAdjust="spacingAndGlyphs">6</tspan></text><text transform="translate(4099.71 1271.12) rotate(-90)" font-size="28.8"><tspan x="-2.02" textLength="14.78" lengthAdjust="spacingAndGlyphs">1</tspan><tspan x="14.18" textLength="15.98" lengthAdjust="spacingAndGlyphs">9</tspan><tspan x="30.95" textLength="15.98" lengthAdjust="spacingAndGlyphs">9</tspan><tspan x="48.17" textLength="15.14" lengthAdjust="spacingAndGlyphs">7</tspan><tspan x="65.45" textLength="10.63" lengthAdjust="spacingAndGlyphs">–</tspan><tspan x="77.92" textLength="14.91" lengthAdjust="spacingAndGlyphs">2</tspan><tspan x="94.76" textLength="15.47" lengthAdjust="spacingAndGlyphs">0</tspan><tspan x="111.52" textLength="15.47" lengthAdjust="spacingAndGlyphs">0</tspan><tspan x="128.51" textLength="14.78" lengthAdjust="spacingAndGlyphs">1</tspan></text><text transform="translate(4124.71 1191) rotate(-90)" font-size="28.8"><tspan x="-1.36" textLength="15.02" lengthAdjust="spacingAndGlyphs">2</tspan><tspan x="15.59" textLength="15.58" lengthAdjust="spacingAndGlyphs">0</tspan><tspan x="32.47" textLength="15.58" lengthAdjust="spacingAndGlyphs">0</tspan><tspan x="49.35" textLength="15.58" lengthAdjust="spacingAndGlyphs">4</tspan></text><text transform="translate(4149.71 1272) rotate(-90)" font-size="28.8"><tspan x="-1.36" textLength="15.03" lengthAdjust="spacingAndGlyphs">2</tspan><tspan x="15.61" textLength="15.59" lengthAdjust="spacingAndGlyphs">0</tspan><tspan x="32.5" textLength="15.59" lengthAdjust="spacingAndGlyphs">0</tspan><tspan x="49.62" textLength="14.89" lengthAdjust="spacingAndGlyphs">1</tspan><tspan x="66.93" textLength="10.71" lengthAdjust="spacingAndGlyphs">–</tspan><tspan x="79.5" textLength="15.03" lengthAdjust="spacingAndGlyphs">2</tspan><tspan x="96.47" textLength="15.59" lengthAdjust="spacingAndGlyphs">0</tspan><tspan x="113.59" textLength="14.89" lengthAdjust="spacingAndGlyphs">1</tspan><tspan x="130.17" textLength="15.76" lengthAdjust="spacingAndGlyphs">8</tspan></text><text transform="translate(4174.71 1272) rotate(-90)" font-size="28.8"><tspan x="-1.36" textLength="15.04" lengthAdjust="spacingAndGlyphs">2</tspan><tspan x="15.61" textLength="15.6" lengthAdjust="spacingAndGlyphs">0</tspan><tspan x="32.52" textLength="15.6" lengthAdjust="spacingAndGlyphs">0</tspan><tspan x="49.77" textLength="14.98" lengthAdjust="spacingAndGlyphs">3</tspan><tspan x="66.97" textLength="10.72" lengthAdjust="spacingAndGlyphs">–</tspan><tspan x="79.55" textLength="15.04" lengthAdjust="spacingAndGlyphs">2</tspan><tspan x="96.52" textLength="15.6" lengthAdjust="spacingAndGlyphs">0</tspan><tspan x="113.43" textLength="15.6" lengthAdjust="spacingAndGlyphs">0</tspan><tspan x="130.33" textLength="15.6" lengthAdjust="spacingAndGlyphs">4</tspan></text><text transform="translate(4199.71 1272) rotate(-90)" font-size="28.8"><tspan x="-1.36" textLength="15.02" lengthAdjust="spacingAndGlyphs">2</tspan><tspan x="15.6" textLength="15.59" lengthAdjust="spacingAndGlyphs">0</tspan><tspan x="32.71" textLength="14.89" lengthAdjust="spacingAndGlyphs">1</tspan><tspan x="49.37" textLength="15.59" lengthAdjust="spacingAndGlyphs">4</tspan><tspan x="66.9" textLength="10.71" lengthAdjust="spacingAndGlyphs">–</tspan><tspan x="79.47" textLength="15.02" lengthAdjust="spacingAndGlyphs">2</tspan><tspan x="96.42" textLength="15.59" lengthAdjust="spacingAndGlyphs">0</tspan><tspan x="113.54" textLength="14.89" lengthAdjust="spacingAndGlyphs">1</tspan><tspan x="129.86" textLength="16.1" lengthAdjust="spacingAndGlyphs">9</tspan></text><text transform="translate(4225.71 1271.12) rotate(-90)" font-size="28.8"><tspan x="-2.03" textLength="14.8" lengthAdjust="spacingAndGlyphs">1</tspan><tspan x="14.21" textLength="16.01" lengthAdjust="spacingAndGlyphs">9</tspan><tspan x="31" textLength="16.01" lengthAdjust="spacingAndGlyphs">9</tspan><tspan x="47.8" textLength="16.01" lengthAdjust="spacingAndGlyphs">9</tspan><tspan x="65.57" textLength="10.65" lengthAdjust="spacingAndGlyphs">–</tspan><tspan x="78.06" textLength="14.94" lengthAdjust="spacingAndGlyphs">2</tspan><tspan x="94.93" textLength="15.5" lengthAdjust="spacingAndGlyphs">0</tspan><tspan x="111.65" textLength="14.94" lengthAdjust="spacingAndGlyphs">2</tspan><tspan x="128.86" textLength="14.89" lengthAdjust="spacingAndGlyphs">3</tspan></text><text transform="translate(4250.71 1190.12) rotate(-90)" font-size="28.8"><tspan x="-2.01" textLength="14.65" lengthAdjust="spacingAndGlyphs">1</tspan><tspan x="14.05" textLength="15.84" lengthAdjust="spacingAndGlyphs">9</tspan><tspan x="30.67" textLength="15.84" lengthAdjust="spacingAndGlyphs">9</tspan><tspan x="47.54" textLength="15.5" lengthAdjust="spacingAndGlyphs">8</tspan></text><text transform="translate(4275.71 1190.12) rotate(-90)" font-size="28.8"><tspan x="-2" textLength="14.63" lengthAdjust="spacingAndGlyphs">1</tspan><tspan x="14.04" textLength="15.82" lengthAdjust="spacingAndGlyphs">9</tspan><tspan x="30.64" textLength="15.82" lengthAdjust="spacingAndGlyphs">9</tspan><tspan x="47.24" textLength="15.82" lengthAdjust="spacingAndGlyphs">9</tspan></text><text transform="translate(4299.71 1272) rotate(-90)" font-size="28.8"><tspan x="-1.36" textLength="15.05" lengthAdjust="spacingAndGlyphs">2</tspan><tspan x="15.63" textLength="15.62" lengthAdjust="spacingAndGlyphs">0</tspan><tspan x="32.77" textLength="14.91" lengthAdjust="spacingAndGlyphs">1</tspan><tspan x="49.8" textLength="14.74" lengthAdjust="spacingAndGlyphs">5</tspan><tspan x="67.03" textLength="10.73" lengthAdjust="spacingAndGlyphs">–</tspan><tspan x="79.62" textLength="15.05" lengthAdjust="spacingAndGlyphs">2</tspan><tspan x="96.61" textLength="15.62" lengthAdjust="spacingAndGlyphs">0</tspan><tspan x="113.46" textLength="15.05" lengthAdjust="spacingAndGlyphs">2</tspan><tspan x="130.45" textLength="15.62" lengthAdjust="spacingAndGlyphs">0</tspan></text><text transform="translate(4324.71 1272) rotate(-90)" font-size="28.8"><tspan x="-1.36" textLength="15.05" lengthAdjust="spacingAndGlyphs">2</tspan><tspan x="15.62" textLength="15.61" lengthAdjust="spacingAndGlyphs">0</tspan><tspan x="32.76" textLength="14.91" lengthAdjust="spacingAndGlyphs">1</tspan><tspan x="49.79" textLength="14.99" lengthAdjust="spacingAndGlyphs">3</tspan><tspan x="67" textLength="10.72" lengthAdjust="spacingAndGlyphs">–</tspan><tspan x="79.58" textLength="15.05" lengthAdjust="spacingAndGlyphs">2</tspan><tspan x="96.56" textLength="15.61" lengthAdjust="spacingAndGlyphs">0</tspan><tspan x="113.7" textLength="14.91" lengthAdjust="spacingAndGlyphs">1</tspan><tspan x="130.72" textLength="14.73" lengthAdjust="spacingAndGlyphs">5</tspan></text><text transform="translate(4349.71 1272) rotate(-90)" font-size="28.8"><tspan x="-1.36" textLength="15.05" lengthAdjust="spacingAndGlyphs">2</tspan><tspan x="15.62" textLength="15.61" lengthAdjust="spacingAndGlyphs">0</tspan><tspan x="32.76" textLength="14.91" lengthAdjust="spacingAndGlyphs">1</tspan><tspan x="49.8" textLength="14.99" lengthAdjust="spacingAndGlyphs">3</tspan><tspan x="67.01" textLength="10.72" lengthAdjust="spacingAndGlyphs">–</tspan><tspan x="79.6" textLength="15.05" lengthAdjust="spacingAndGlyphs">2</tspan><tspan x="96.58" textLength="15.61" lengthAdjust="spacingAndGlyphs">0</tspan><tspan x="113.43" textLength="15.05" lengthAdjust="spacingAndGlyphs">2</tspan><tspan x="130.64" textLength="14.91" lengthAdjust="spacingAndGlyphs">1</tspan></text><text transform="translate(4374.71 1273) rotate(-90)" font-size="28.8"><tspan x="-1.36" textLength="15.07" lengthAdjust="spacingAndGlyphs">2</tspan><tspan x="15.65" textLength="15.63" lengthAdjust="spacingAndGlyphs">0</tspan><tspan x="32.81" textLength="14.93" lengthAdjust="spacingAndGlyphs">1</tspan><tspan x="49.44" textLength="15.8" lengthAdjust="spacingAndGlyphs">8</tspan><tspan x="67.11" textLength="10.74" lengthAdjust="spacingAndGlyphs">–</tspan><tspan x="79.71" textLength="15.07" lengthAdjust="spacingAndGlyphs">2</tspan><tspan x="96.72" textLength="15.63" lengthAdjust="spacingAndGlyphs">0</tspan><tspan x="113.59" textLength="15.07" lengthAdjust="spacingAndGlyphs">2</tspan><tspan x="130.53" textLength="15.07" lengthAdjust="spacingAndGlyphs">2</tspan></text><text transform="translate(4399.71 1272) rotate(-90)" font-size="28.8"><tspan x="-1.36" textLength="15.03" lengthAdjust="spacingAndGlyphs">2</tspan><tspan x="15.61" textLength="15.59" lengthAdjust="spacingAndGlyphs">0</tspan><tspan x="32.73" textLength="14.89" lengthAdjust="spacingAndGlyphs">1</tspan><tspan x="49.39" textLength="15.59" lengthAdjust="spacingAndGlyphs">4</tspan><tspan x="66.93" textLength="10.71" lengthAdjust="spacingAndGlyphs">–</tspan><tspan x="79.5" textLength="15.03" lengthAdjust="spacingAndGlyphs">2</tspan><tspan x="96.47" textLength="15.59" lengthAdjust="spacingAndGlyphs">0</tspan><tspan x="113.59" textLength="14.89" lengthAdjust="spacingAndGlyphs">1</tspan><tspan x="130.17" textLength="15.76" lengthAdjust="spacingAndGlyphs">8</tspan></text><text transform="translate(4425.71 1191) rotate(-90)" font-size="28.8"><tspan x="-1.36" textLength="15.03" lengthAdjust="spacingAndGlyphs">2</tspan><tspan x="15.6" textLength="15.59" lengthAdjust="spacingAndGlyphs">0</tspan><tspan x="32.49" textLength="15.59" lengthAdjust="spacingAndGlyphs">0</tspan><tspan x="49.3" textLength="15.76" lengthAdjust="spacingAndGlyphs">8</tspan></text><text transform="translate(4450.71 1272) rotate(-90)" font-size="28.8"><tspan x="-1.36" textLength="15.05" lengthAdjust="spacingAndGlyphs">2</tspan><tspan x="15.62" textLength="15.61" lengthAdjust="spacingAndGlyphs">0</tspan><tspan x="32.54" textLength="15.61" lengthAdjust="spacingAndGlyphs">0</tspan><tspan x="49.79" textLength="14.73" lengthAdjust="spacingAndGlyphs">5</tspan><tspan x="67.01" textLength="10.72" lengthAdjust="spacingAndGlyphs">–</tspan><tspan x="79.6" textLength="15.05" lengthAdjust="spacingAndGlyphs">2</tspan><tspan x="96.58" textLength="15.61" lengthAdjust="spacingAndGlyphs">0</tspan><tspan x="113.43" textLength="15.05" lengthAdjust="spacingAndGlyphs">2</tspan><tspan x="130.64" textLength="14.91" lengthAdjust="spacingAndGlyphs">1</tspan></text><text transform="translate(4475.71 1205) rotate(-90)" font-size="28.8"><tspan x="-1.36" textLength="15.03" lengthAdjust="spacingAndGlyphs">2</tspan><tspan x="15.6" textLength="15.59" lengthAdjust="spacingAndGlyphs">0</tspan><tspan x="32.49" textLength="15.59" lengthAdjust="spacingAndGlyphs">0</tspan><tspan x="49.38" textLength="15.59" lengthAdjust="spacingAndGlyphs">4</tspan><tspan x="66.92" textLength="10.71" lengthAdjust="spacingAndGlyphs">–</tspan></text><text transform="translate(4501.71 1271.12) rotate(-90)" font-size="28.8"><tspan x="-2.03" textLength="14.81" lengthAdjust="spacingAndGlyphs">1</tspan><tspan x="14.21" textLength="16.02" lengthAdjust="spacingAndGlyphs">9</tspan><tspan x="31.69" textLength="14.64" lengthAdjust="spacingAndGlyphs">5</tspan><tspan x="48.5" textLength="14.64" lengthAdjust="spacingAndGlyphs">5</tspan><tspan x="65.6" textLength="10.65" lengthAdjust="spacingAndGlyphs">–</tspan><tspan x="78.4" textLength="14.81" lengthAdjust="spacingAndGlyphs">1</tspan><tspan x="94.64" textLength="16.02" lengthAdjust="spacingAndGlyphs">9</tspan><tspan x="111.51" textLength="16.05" lengthAdjust="spacingAndGlyphs">6</tspan><tspan x="128.52" textLength="14.95" lengthAdjust="spacingAndGlyphs">2</tspan></text></g>
<rect x="117" y="59" width="4464" height="1045" fill="none" stroke="#000" stroke-width="2.133" stroke-linejoin="miter"/>
<g font-family='"Liberation Sans", sans-serif' fill="#000" stroke="#000" stroke-width="0.05"><text transform="translate(1935.77 43.31)" font-size="33.44"><tspan x="-1.51" textLength="21.43" lengthAdjust="spacingAndGlyphs">C</tspan><tspan x="20.86" textLength="18.9" lengthAdjust="spacingAndGlyphs">o</tspan><tspan x="40.26" textLength="13.64" lengthAdjust="spacingAndGlyphs">r</tspan><tspan x="52.9" textLength="13.64" lengthAdjust="spacingAndGlyphs">r</tspan><tspan x="65.4" textLength="19.2" lengthAdjust="spacingAndGlyphs">e</tspan><tspan x="85.58" textLength="7.26" lengthAdjust="spacingAndGlyphs">l</tspan><tspan x="94.35" textLength="15.98" lengthAdjust="spacingAndGlyphs">a</tspan><tspan x="113.44" textLength="11.87" lengthAdjust="spacingAndGlyphs">t</tspan><tspan x="126.59" textLength="7.26" lengthAdjust="spacingAndGlyphs">i</tspan><tspan x="134.98" textLength="18.9" lengthAdjust="spacingAndGlyphs">o</tspan><tspan x="154.81" textLength="19.16" lengthAdjust="spacingAndGlyphs">n</tspan><tspan x="174.45"> </tspan><tspan x="185.27" textLength="19.34" lengthAdjust="spacingAndGlyphs">b</tspan><tspan x="205.2" textLength="19.2" lengthAdjust="spacingAndGlyphs">e</tspan><tspan x="224.77" textLength="11.87" lengthAdjust="spacingAndGlyphs">t</tspan><tspan x="238.48" textLength="23.33" lengthAdjust="spacingAndGlyphs">w</tspan><tspan x="263.53" textLength="19.2" lengthAdjust="spacingAndGlyphs">e</tspan><tspan x="283.19" textLength="19.2" lengthAdjust="spacingAndGlyphs">e</tspan><tspan x="303.17" textLength="19.16" lengthAdjust="spacingAndGlyphs">n</tspan><tspan x="322.81"> </tspan><tspan x="333.6" textLength="22.07" lengthAdjust="spacingAndGlyphs">R</tspan><tspan x="354.1" textLength="19.2" lengthAdjust="spacingAndGlyphs">e</tspan><tspan x="374.28" textLength="7.26" lengthAdjust="spacingAndGlyphs">l</tspan><tspan x="382.64" textLength="19.2" lengthAdjust="spacingAndGlyphs">e</tspan><tspan x="402.71" textLength="15.98" lengthAdjust="spacingAndGlyphs">a</tspan><tspan x="422.48" textLength="15.32" lengthAdjust="spacingAndGlyphs">s</tspan><tspan x="438.54" textLength="19.2" lengthAdjust="spacingAndGlyphs">e</tspan><tspan x="457.91"> </tspan><tspan x="467.31" textLength="21.03" lengthAdjust="spacingAndGlyphs">Y</tspan><tspan x="483.64" textLength="19.2" lengthAdjust="spacingAndGlyphs">e</tspan><tspan x="503.71" textLength="15.98" lengthAdjust="spacingAndGlyphs">a</tspan><tspan x="522.78" textLength="13.64" lengthAdjust="spacingAndGlyphs">r</tspan><tspan x="535.73"> </tspan><tspan x="546.59" textLength="15.98" lengthAdjust="spacingAndGlyphs">a</tspan><tspan x="566.09" textLength="19.16" lengthAdjust="spacingAndGlyphs">n</tspan><tspan x="586.04" textLength="19.32" lengthAdjust="spacingAndGlyphs">d</tspan><tspan x="606.02"> </tspan><tspan x="616.2" textLength="9.39" lengthAdjust="spacingAndGlyphs">I</tspan><tspan x="626.13" textLength="26.55" lengthAdjust="spacingAndGlyphs">M</tspan><tspan x="653.6" textLength="23.88" lengthAdjust="spacingAndGlyphs">D</tspan><tspan x="678.45" textLength="19.34" lengthAdjust="spacingAndGlyphs">b</tspan><tspan x="698.08"> </tspan><tspan x="708.86" textLength="22.07" lengthAdjust="spacingAndGlyphs">R</tspan><tspan x="730.39" textLength="15.98" lengthAdjust="spacingAndGlyphs">a</tspan><tspan x="749.49" textLength="11.87" lengthAdjust="spacingAndGlyphs">t</tspan><tspan x="762.64" textLength="7.26" lengthAdjust="spacingAndGlyphs">i</tspan><tspan x="771.3" textLength="19.16" lengthAdjust="spacingAndGlyphs">n</tspan><tspan x="791.25" textLength="19.32" lengthAdjust="spacingAndGlyphs">g</tspan><tspan x="812.11" textLength="15.32" lengthAdjust="spacingAndGlyphs">s</tspan></text><text transform="translate(2267.62 1301.94)" font-size="27.47"><tspan x="-2.09" textLength="18.39" lengthAdjust="spacingAndGlyphs">R</tspan><tspan x="14.86" textLength="16" lengthAdjust="spacingAndGlyphs">e</tspan><tspan x="31.64" textLength="6.05" lengthAdjust="spacingAndGlyphs">l</tspan><tspan x="38.6" textLength="16" lengthAdjust="spacingAndGlyphs">e</tspan><tspan x="55.29" textLength="13.32" lengthAdjust="spacingAndGlyphs">a</tspan><tspan x="71.74" textLength="12.76" lengthAdjust="spacingAndGlyphs">s</tspan><tspan x="85.1" textLength="16" lengthAdjust="spacingAndGlyphs">e</tspan><tspan x="101.21"> </tspan><tspan x="109.03" textLength="17.52" lengthAdjust="spacingAndGlyphs">Y</tspan><tspan x="122.66" textLength="16" lengthAdjust="spacingAndGlyphs">e</tspan><tspan x="139.35" textLength="13.32" lengthAdjust="spacingAndGlyphs">a</tspan><tspan x="155.21" textLength="11.36" lengthAdjust="spacingAndGlyphs">r</tspan></text></g>
<g font-family='"Liberation Sans", sans-serif' fill="#000" stroke="#000" stroke-width="0"><text transform="translate(38.26 661.37) rotate(-90)" font-size="27.47"><tspan x="-2.6" textLength="7.83" lengthAdjust="spacingAndGlyphs">I</tspan><tspan x="5.67" textLength="22.13" lengthAdjust="spacingAndGlyphs">M</tspan><tspan x="28.54" textLength="19.91" lengthAdjust="spacingAndGlyphs">D</tspan><tspan x="49.22" textLength="16.12" lengthAdjust="spacingAndGlyphs">b</tspan><tspan x="65.56"> </tspan><tspan x="74.54" textLength="18.41" lengthAdjust="spacingAndGlyphs">R</tspan><tspan x="92.46" textLength="13.33" lengthAdjust="spacingAndGlyphs">a</tspan><tspan x="108.36" textLength="9.89" lengthAdjust="spacingAndGlyphs">t</tspan><tspan x="119.3" textLength="6.05" lengthAdjust="spacingAndGlyphs">i</tspan><tspan x="126.52" textLength="15.98" lengthAdjust="spacingAndGlyphs">n</tspan><tspan x="143.12" textLength="16.11" lengthAdjust="spacingAndGlyphs">g</tspan></text></g>
<path d="M4344.833 474.5L4563.167 474.5Q4568.5 474.5 4568.5 469.167L4568.5 77.833Q4568.5 72.5 4563.167 72.5L4344.833 72.5Q4339.5 72.5 4339.5 77.833L4339.5 469.167Q4339.5 474.5 4344.833 474.5Z" fill="#fff" fill-opacity="0.8" stroke="#cccccc" stroke-opacity="0.8" stroke-width="2.667"/>
<g><circle cx="4376.501" cy="135.499" r="9.4" fill="#e41a1c"/><circle cx="4376.501" cy="175.499" r="9.4" fill="#377eb8"/><circle cx="4376.501" cy="214.498" r="9.4" fill="#4daf4a"/><circle cx="4376.5" cy="253.498" r="9.4" fill="#984ea3"/><circle cx="4376.5" cy="293.499" r="9.4" fill="#ff7f00"/><circle cx="4376.501" cy="332.499" r="9.4" fill="#ffff33"/><circle cx="4376.501" cy="371.496" r="9.4" fill="#a65628"/><circle cx="4376.503" cy="411.499" r="9.4" fill="#f781bf"/><circle cx="4376.503" cy="450.498" r="9.4" fill="#999999"/></g>
<g font-family='"Liberation Sans", sans-serif' fill="#000" stroke="#000" stroke-width="0"><text transform="translate(4361.87 103.26)" font-size="28.27"><tspan x="-0.65" textLength="17.67" lengthAdjust="spacingAndGlyphs">T</tspan><tspan x="16.34" textLength="17.95" lengthAdjust="spacingAndGlyphs">V</tspan><tspan x="34.37"> </tspan><tspan x="43.46" textLength="15.77" lengthAdjust="spacingAndGlyphs">S</tspan><tspan x="60.01" textLength="16.01" lengthAdjust="spacingAndGlyphs">h</tspan><tspan x="76.66" textLength="15.68" lengthAdjust="spacingAndGlyphs">o</tspan><tspan x="93.74" textLength="19.36" lengthAdjust="spacingAndGlyphs">w</tspan><tspan x="114.24"> </tspan><tspan x="121.94" textLength="17.67" lengthAdjust="spacingAndGlyphs">T</tspan><tspan x="135.46" textLength="14.24" lengthAdjust="spacingAndGlyphs">y</tspan><tspan x="150.96" textLength="16.05" lengthAdjust="spacingAndGlyphs">p</tspan><tspan x="167.47" textLength="15.93" lengthAdjust="spacingAndGlyphs">e</tspan></text><text transform="translate(4424.87 141.72)" font-size="28.8"><tspan x="-0.64" textLength="17.51" lengthAdjust="spacingAndGlyphs">T</tspan><tspan x="16.19" textLength="17.79" lengthAdjust="spacingAndGlyphs">V</tspan><tspan x="32.6" textLength="9.43" lengthAdjust="spacingAndGlyphs">-</tspan><tspan x="42.47" textLength="21.83" lengthAdjust="spacingAndGlyphs">M</tspan><tspan x="64.83" textLength="17.66" lengthAdjust="spacingAndGlyphs">A</tspan></text><text transform="translate(4424.87 181.71)" font-size="28.8"><tspan x="-0.64" textLength="17.48" lengthAdjust="spacingAndGlyphs">T</tspan><tspan x="16.16" textLength="17.76" lengthAdjust="spacingAndGlyphs">V</tspan><tspan x="32.54" textLength="9.42" lengthAdjust="spacingAndGlyphs">-</tspan><tspan x="43.14" textLength="19.9" lengthAdjust="spacingAndGlyphs">G</tspan></text><text transform="translate(4424.87 220.71)" font-size="28.8"><tspan x="-0.64" textLength="17.52" lengthAdjust="spacingAndGlyphs">T</tspan><tspan x="16.2" textLength="17.8" lengthAdjust="spacingAndGlyphs">V</tspan><tspan x="32.62" textLength="9.44" lengthAdjust="spacingAndGlyphs">-</tspan><tspan x="42.74" textLength="15.51" lengthAdjust="spacingAndGlyphs">P</tspan><tspan x="58.09" textLength="19.95" lengthAdjust="spacingAndGlyphs">G</tspan></text><text transform="translate(4424.87 259.72)" font-size="28.8"><tspan x="-0.64" textLength="17.54" lengthAdjust="spacingAndGlyphs">T</tspan><tspan x="16.22" textLength="17.82" lengthAdjust="spacingAndGlyphs">V</tspan><tspan x="32.66" textLength="9.45" lengthAdjust="spacingAndGlyphs">-</tspan><tspan x="38.41" textLength="17.33" lengthAdjust="spacingAndGlyphs">Y</tspan><tspan x="55.86" textLength="15.1" lengthAdjust="spacingAndGlyphs">7</tspan><tspan x="71.84" textLength="9.45" lengthAdjust="spacingAndGlyphs">-</tspan><tspan x="82.03" textLength="13.78" lengthAdjust="spacingAndGlyphs">F</tspan><tspan x="96.51" textLength="17.82" lengthAdjust="spacingAndGlyphs">V</tspan></text><text transform="translate(4424.87 299.72)" font-size="28.8"><tspan x="-0.64" textLength="17.48" lengthAdjust="spacingAndGlyphs">T</tspan><tspan x="16.17" textLength="17.76" lengthAdjust="spacingAndGlyphs">V</tspan><tspan x="32.55" textLength="9.42" lengthAdjust="spacingAndGlyphs">-</tspan><tspan x="42.86" textLength="14.69" lengthAdjust="spacingAndGlyphs">1</tspan><tspan x="59.3" textLength="15.39" lengthAdjust="spacingAndGlyphs">4</tspan></text><text transform="translate(4424.87 338.72)" font-size="28.8"><tspan x="-0.64" textLength="17.3" lengthAdjust="spacingAndGlyphs">T</tspan><tspan x="16" textLength="17.58" lengthAdjust="spacingAndGlyphs">V</tspan><tspan x="32.21" textLength="9.32" lengthAdjust="spacingAndGlyphs">-</tspan><tspan x="37.88" textLength="17.09" lengthAdjust="spacingAndGlyphs">Y</tspan></text><text transform="translate(4427.62 377.71)" font-size="28.8"><tspan x="-1.9" textLength="15.47" lengthAdjust="spacingAndGlyphs">P</tspan><tspan x="13.4" textLength="19.9" lengthAdjust="spacingAndGlyphs">G</tspan><tspan x="33.53" textLength="9.42" lengthAdjust="spacingAndGlyphs">-</tspan><tspan x="43.83" textLength="14.69" lengthAdjust="spacingAndGlyphs">1</tspan><tspan x="60.61" textLength="14.77" lengthAdjust="spacingAndGlyphs">3</tspan></text><text transform="translate(4424.87 417.72)" font-size="28.8"><tspan x="-0.64" textLength="17.49" lengthAdjust="spacingAndGlyphs">T</tspan><tspan x="16.17" textLength="17.77" lengthAdjust="spacingAndGlyphs">V</tspan><tspan x="32.56" textLength="9.42" lengthAdjust="spacingAndGlyphs">-</tspan><tspan x="38.29" textLength="17.27" lengthAdjust="spacingAndGlyphs">Y</tspan><tspan x="55.69" textLength="15.05" lengthAdjust="spacingAndGlyphs">7</tspan></text><text transform="translate(4426.62 456.94)" font-size="28.8"><tspan x="-2.16" textLength="19.04" lengthAdjust="spacingAndGlyphs">N</tspan><tspan x="17.6" textLength="15.78" lengthAdjust="spacingAndGlyphs">o</tspan><tspan x="33.8" textLength="9.91" lengthAdjust="spacingAndGlyphs">t</tspan><tspan x="44.07"> </tspan><tspan x="53.07" textLength="18.44" lengthAdjust="spacingAndGlyphs">R</tspan><tspan x="71.02" textLength="13.35" lengthAdjust="spacingAndGlyphs">a</tspan><tspan x="86.94" textLength="9.91" lengthAdjust="spacingAndGlyphs">t</tspan><tspan x="97.46" textLength="16.03" lengthAdjust="spacingAndGlyphs">e</tspan><tspan x="113.86" textLength="16.13" lengthAdjust="spacingAndGlyphs">d</tspan></text></g></svg>
</body></html>
